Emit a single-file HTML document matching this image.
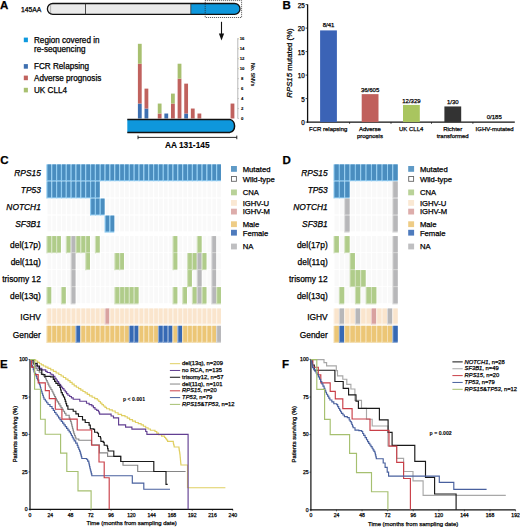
<!DOCTYPE html>
<html><head><meta charset="utf-8"><style>
html,body{margin:0;padding:0;background:#fff;}
svg{display:block;font-family:"Liberation Sans",sans-serif;}
text{stroke:#000;stroke-width:0.25px;}
</style></head><body>
<svg width="520" height="527" viewBox="0 0 520 527">
<rect width="520" height="527" fill="#fff"/>
<text x="0" y="8.6" font-size="11.5" font-weight="bold">A</text>
<text x="21" y="12.2" font-size="6.8">145AA</text>
<path d="M52.8,3.5 H190.8 V14.3 H52.8 A5.4,5.4 0 0 1 52.8,3.5 Z" fill="#eaeaea"/>
<path d="M190.8,3.5 H234.6 A5.4,5.4 0 0 1 234.6,14.3 H190.8 Z" fill="#0e97dc"/>
<path d="M52.8,3.5 H234.6 A5.4,5.4 0 0 1 234.6,14.3 H52.8 A5.4,5.4 0 0 1 52.8,3.5 Z" fill="none" stroke="#111" stroke-width="1.3"/>
<line x1="85.5" y1="3.5" x2="85.5" y2="14.3" stroke="#222" stroke-width="0.8"/>
<line x1="190.8" y1="3.5" x2="190.8" y2="14.3" stroke="#333" stroke-width="0.8"/>
<line x1="50.6" y1="4.5" x2="50.6" y2="13.3" stroke="#555" stroke-width="0.7" stroke-dasharray="1,1"/>
<rect x="205.2" y="0.6" width="36.4" height="16.9" fill="none" stroke="#222" stroke-width="0.8" stroke-dasharray="1,1"/>
<line x1="221.5" y1="21.8" x2="221.5" y2="35" stroke="#111" stroke-width="1.1"/>
<path d="M218.9,33.6 L224.1,33.6 L221.5,40.6 Z" fill="#111"/>
<rect x="23.8" y="37.6" width="4.1" height="4.6" fill="#0e99de"/>
<text x="34" y="42.5" font-size="8.15">Region covered in</text>
<text x="34" y="52.1" font-size="8.15">re-sequencing</text>
<rect x="23.8" y="64.1" width="4.1" height="4.6" fill="#3d6fb0"/>
<text x="34" y="69" font-size="8.15">FCR Relapsing</text>
<rect x="23.8" y="75.6" width="4.1" height="4.6" fill="#c0625e"/>
<text x="34" y="80.5" font-size="8.15">Adverse prognosis</text>
<rect x="23.8" y="87.8" width="4.1" height="4.6" fill="#a8c070"/>
<text x="34" y="92.7" font-size="8.15">UK CLL4</text>
<rect x="137.9" y="103.56" width="3.8" height="14.94" fill="#3d6fb0"/>
<rect x="137.9" y="63.72" width="3.8" height="39.84" fill="#c0625e"/>
<rect x="137.9" y="43.8" width="3.8" height="19.92" fill="#a8c070"/>
<rect x="144.52" y="108.54" width="3.8" height="9.96" fill="#3d6fb0"/>
<rect x="144.52" y="88.62" width="3.8" height="19.92" fill="#c0625e"/>
<rect x="157.76" y="113.52" width="3.8" height="4.98" fill="#c0625e"/>
<rect x="157.76" y="103.56" width="3.8" height="9.96" fill="#a8c070"/>
<rect x="164.38" y="113.52" width="3.8" height="4.98" fill="#3d6fb0"/>
<rect x="171" y="103.56" width="3.8" height="14.94" fill="#c0625e"/>
<rect x="171" y="93.6" width="3.8" height="9.96" fill="#a8c070"/>
<rect x="177.62" y="78.66" width="3.8" height="39.84" fill="#c0625e"/>
<rect x="177.62" y="63.72" width="3.8" height="14.94" fill="#a8c070"/>
<rect x="184.24" y="113.52" width="3.8" height="4.98" fill="#3d6fb0"/>
<rect x="184.24" y="83.64" width="3.8" height="29.88" fill="#c0625e"/>
<rect x="190.86" y="108.54" width="3.8" height="9.96" fill="#c0625e"/>
<rect x="197.48" y="113.52" width="3.8" height="4.98" fill="#c0625e"/>
<rect x="230.58" y="103.56" width="3.8" height="14.94" fill="#c0625e"/>
<line x1="237.8" y1="38.2" x2="237.8" y2="118.5" stroke="#888" stroke-width="0.6"/>
<line x1="237.8" y1="118.5" x2="238.8" y2="118.5" stroke="#888" stroke-width="0.5"/>
<text x="242.1" y="120.05" font-size="4.3" text-anchor="middle" font-weight="bold" style="stroke-width:0.1px">0</text>
<line x1="237.8" y1="108.54" x2="238.8" y2="108.54" stroke="#888" stroke-width="0.5"/>
<text x="242.1" y="110.09" font-size="4.3" text-anchor="middle" font-weight="bold" style="stroke-width:0.1px">2</text>
<line x1="237.8" y1="98.58" x2="238.8" y2="98.58" stroke="#888" stroke-width="0.5"/>
<text x="242.1" y="100.13" font-size="4.3" text-anchor="middle" font-weight="bold" style="stroke-width:0.1px">4</text>
<line x1="237.8" y1="88.62" x2="238.8" y2="88.62" stroke="#888" stroke-width="0.5"/>
<text x="242.1" y="90.17" font-size="4.3" text-anchor="middle" font-weight="bold" style="stroke-width:0.1px">6</text>
<line x1="237.8" y1="78.66" x2="238.8" y2="78.66" stroke="#888" stroke-width="0.5"/>
<text x="242.1" y="80.21" font-size="4.3" text-anchor="middle" font-weight="bold" style="stroke-width:0.1px">8</text>
<line x1="237.8" y1="68.7" x2="238.8" y2="68.7" stroke="#888" stroke-width="0.5"/>
<text x="242.1" y="70.25" font-size="4.3" text-anchor="middle" font-weight="bold" style="stroke-width:0.1px">10</text>
<line x1="237.8" y1="58.74" x2="238.8" y2="58.74" stroke="#888" stroke-width="0.5"/>
<text x="242.1" y="60.29" font-size="4.3" text-anchor="middle" font-weight="bold" style="stroke-width:0.1px">12</text>
<line x1="237.8" y1="48.78" x2="238.8" y2="48.78" stroke="#888" stroke-width="0.5"/>
<text x="242.1" y="50.33" font-size="4.3" text-anchor="middle" font-weight="bold" style="stroke-width:0.1px">14</text>
<line x1="237.8" y1="38.82" x2="238.8" y2="38.82" stroke="#888" stroke-width="0.5"/>
<text x="242.1" y="40.37" font-size="4.3" text-anchor="middle" font-weight="bold" style="stroke-width:0.1px">16</text>
<text transform="translate(250.9,74.6) rotate(90)" font-size="5.2" font-weight="bold" style="stroke-width:0.05px" text-anchor="middle">No. SNVs</text>
<path d="M127.3,119.4 H229.8 A6.8,6.8 0 0 1 229.8,132.4 H127.3 Z" fill="#0e97dc"/>
<path d="M127.3,119.4 H229.8 A6.8,6.8 0 0 1 229.8,132.4 H127.3" fill="none" stroke="#111" stroke-width="1.5"/>
<line x1="138" y1="137.4" x2="236.8" y2="137.4" stroke="#111" stroke-width="0.9"/>
<line x1="138" y1="135.6" x2="138" y2="139.2" stroke="#111" stroke-width="0.9"/>
<line x1="236.8" y1="135.6" x2="236.8" y2="139.2" stroke="#111" stroke-width="0.9"/>
<text x="164.9" y="148.3" font-size="8.35" font-weight="bold" style="stroke-width:0.1px">AA 131-145</text>
<text x="282.5" y="8.7" font-size="11.5" font-weight="bold">B</text>
<line x1="307.6" y1="4.4" x2="307.6" y2="122.7" stroke="#111" stroke-width="1.3"/>
<line x1="307" y1="122.1" x2="514.8" y2="122.1" stroke="#111" stroke-width="1.3"/>
<line x1="305.6" y1="122.1" x2="307.6" y2="122.1" stroke="#111" stroke-width="0.8"/>
<text x="304.8" y="125" font-size="6.3" text-anchor="end">0</text>
<line x1="305.6" y1="98.6" x2="307.6" y2="98.6" stroke="#111" stroke-width="0.8"/>
<text x="304.8" y="101.5" font-size="6.3" text-anchor="end">5</text>
<line x1="305.6" y1="75.1" x2="307.6" y2="75.1" stroke="#111" stroke-width="0.8"/>
<text x="304.8" y="78" font-size="6.3" text-anchor="end">10</text>
<line x1="305.6" y1="51.6" x2="307.6" y2="51.6" stroke="#111" stroke-width="0.8"/>
<text x="304.8" y="54.5" font-size="6.3" text-anchor="end">15</text>
<line x1="305.6" y1="28.1" x2="307.6" y2="28.1" stroke="#111" stroke-width="0.8"/>
<text x="304.8" y="31" font-size="6.3" text-anchor="end">20</text>
<line x1="305.6" y1="4.6" x2="307.6" y2="4.6" stroke="#111" stroke-width="0.8"/>
<text x="304.8" y="7.5" font-size="6.3" text-anchor="end">25</text>
<line x1="349.6" y1="122.1" x2="349.6" y2="123.9" stroke="#111" stroke-width="0.7"/>
<line x1="391" y1="122.1" x2="391" y2="123.9" stroke="#111" stroke-width="0.7"/>
<line x1="431.5" y1="122.1" x2="431.5" y2="123.9" stroke="#111" stroke-width="0.7"/>
<line x1="472.9" y1="122.1" x2="472.9" y2="123.9" stroke="#111" stroke-width="0.7"/>
<rect x="320.1" y="30.4" width="16.8" height="91.7" fill="#3b63b6"/>
<text x="328.5" y="27.1" font-size="6" text-anchor="middle">8/41</text>
<rect x="361.7" y="94.13" width="16.8" height="27.97" fill="#c0605c"/>
<text x="370.1" y="92.03" font-size="6" text-anchor="middle">36/605</text>
<rect x="403" y="104.94" width="16.8" height="17.16" fill="#a9c55f"/>
<text x="411.4" y="103.14" font-size="6" text-anchor="middle">12/329</text>
<rect x="444.4" y="106.45" width="16.8" height="15.65" fill="#333"/>
<text x="452.8" y="104.35" font-size="6" text-anchor="middle">1/30</text>
<text x="494.3" y="118.9" font-size="6" text-anchor="middle">0/185</text>
<text x="328.2" y="130.9" font-size="6" text-anchor="middle">FCR relapsing</text>
<text x="369.9" y="130.9" font-size="6" text-anchor="middle">Adverse</text>
<text x="369.9" y="138.2" font-size="6" text-anchor="middle">prognosis</text>
<text x="411.2" y="130.9" font-size="6" text-anchor="middle">UK CLL4</text>
<text x="452.7" y="130.9" font-size="6" text-anchor="middle">Richter</text>
<text x="452.7" y="138.2" font-size="6" text-anchor="middle">transformed</text>
<text x="494.6" y="130.9" font-size="6" text-anchor="middle">IGHV-mutated</text>
<text transform="translate(292.1,63) rotate(-90)" font-size="7.8" text-anchor="middle"><tspan font-style="italic">RPS15</tspan> mutated (%)</text>
<text x="0.2" y="163.5" font-size="11.5" font-weight="bold">C</text>
<rect x="46.35" y="164.4" width="4.85" height="17" fill="#8ecaf0"/>
<rect x="47.5" y="164.4" width="3.7" height="15.8" fill="#4a8dbf"/>
<rect x="51.2" y="164.4" width="4.85" height="17" fill="#8ecaf0"/>
<rect x="52.35" y="164.4" width="3.7" height="15.8" fill="#4a8dbf"/>
<rect x="56.05" y="164.4" width="4.85" height="17" fill="#8ecaf0"/>
<rect x="57.2" y="164.4" width="3.7" height="15.8" fill="#4a8dbf"/>
<rect x="60.9" y="164.4" width="4.85" height="17" fill="#8ecaf0"/>
<rect x="62.05" y="164.4" width="3.7" height="15.8" fill="#4a8dbf"/>
<rect x="65.75" y="164.4" width="4.85" height="17" fill="#8ecaf0"/>
<rect x="66.9" y="164.4" width="3.7" height="15.8" fill="#4a8dbf"/>
<rect x="70.6" y="164.4" width="4.85" height="17" fill="#8ecaf0"/>
<rect x="71.75" y="164.4" width="3.7" height="15.8" fill="#4a8dbf"/>
<rect x="75.45" y="164.4" width="4.85" height="17" fill="#8ecaf0"/>
<rect x="76.6" y="164.4" width="3.7" height="15.8" fill="#4a8dbf"/>
<rect x="80.3" y="164.4" width="4.85" height="17" fill="#8ecaf0"/>
<rect x="81.45" y="164.4" width="3.7" height="15.8" fill="#4a8dbf"/>
<rect x="85.15" y="164.4" width="4.85" height="17" fill="#8ecaf0"/>
<rect x="86.3" y="164.4" width="3.7" height="15.8" fill="#4a8dbf"/>
<rect x="90" y="164.4" width="4.85" height="17" fill="#8ecaf0"/>
<rect x="91.15" y="164.4" width="3.7" height="15.8" fill="#4a8dbf"/>
<rect x="94.85" y="164.4" width="4.85" height="17" fill="#8ecaf0"/>
<rect x="96" y="164.4" width="3.7" height="15.8" fill="#4a8dbf"/>
<rect x="99.7" y="164.4" width="4.85" height="17" fill="#8ecaf0"/>
<rect x="100.85" y="164.4" width="3.7" height="15.8" fill="#4a8dbf"/>
<rect x="104.55" y="164.4" width="4.85" height="17" fill="#8ecaf0"/>
<rect x="105.7" y="164.4" width="3.7" height="15.8" fill="#4a8dbf"/>
<rect x="109.4" y="164.4" width="4.85" height="17" fill="#8ecaf0"/>
<rect x="110.55" y="164.4" width="3.7" height="15.8" fill="#4a8dbf"/>
<rect x="114.25" y="164.4" width="4.85" height="17" fill="#8ecaf0"/>
<rect x="115.4" y="164.4" width="3.7" height="15.8" fill="#4a8dbf"/>
<rect x="119.1" y="164.4" width="4.85" height="17" fill="#8ecaf0"/>
<rect x="120.25" y="164.4" width="3.7" height="15.8" fill="#4a8dbf"/>
<rect x="123.95" y="164.4" width="4.85" height="17" fill="#8ecaf0"/>
<rect x="125.1" y="164.4" width="3.7" height="15.8" fill="#4a8dbf"/>
<rect x="128.8" y="164.4" width="4.85" height="17" fill="#8ecaf0"/>
<rect x="129.95" y="164.4" width="3.7" height="15.8" fill="#4a8dbf"/>
<rect x="133.65" y="164.4" width="4.85" height="17" fill="#8ecaf0"/>
<rect x="134.8" y="164.4" width="3.7" height="15.8" fill="#4a8dbf"/>
<rect x="138.5" y="164.4" width="4.85" height="17" fill="#8ecaf0"/>
<rect x="139.65" y="164.4" width="3.7" height="15.8" fill="#4a8dbf"/>
<rect x="143.35" y="164.4" width="4.85" height="17" fill="#8ecaf0"/>
<rect x="144.5" y="164.4" width="3.7" height="15.8" fill="#4a8dbf"/>
<rect x="148.2" y="164.4" width="4.85" height="17" fill="#8ecaf0"/>
<rect x="149.35" y="164.4" width="3.7" height="15.8" fill="#4a8dbf"/>
<rect x="153.05" y="164.4" width="4.85" height="17" fill="#8ecaf0"/>
<rect x="154.2" y="164.4" width="3.7" height="15.8" fill="#4a8dbf"/>
<rect x="157.9" y="164.4" width="4.85" height="17" fill="#8ecaf0"/>
<rect x="159.05" y="164.4" width="3.7" height="15.8" fill="#4a8dbf"/>
<rect x="162.75" y="164.4" width="4.85" height="17" fill="#8ecaf0"/>
<rect x="163.9" y="164.4" width="3.7" height="15.8" fill="#4a8dbf"/>
<rect x="167.6" y="164.4" width="4.85" height="17" fill="#8ecaf0"/>
<rect x="168.75" y="164.4" width="3.7" height="15.8" fill="#4a8dbf"/>
<rect x="172.45" y="164.4" width="4.85" height="17" fill="#8ecaf0"/>
<rect x="173.6" y="164.4" width="3.7" height="15.8" fill="#4a8dbf"/>
<rect x="177.3" y="164.4" width="4.85" height="17" fill="#8ecaf0"/>
<rect x="178.45" y="164.4" width="3.7" height="15.8" fill="#4a8dbf"/>
<rect x="182.15" y="164.4" width="4.85" height="17" fill="#8ecaf0"/>
<rect x="183.3" y="164.4" width="3.7" height="15.8" fill="#4a8dbf"/>
<rect x="187" y="164.4" width="4.85" height="17" fill="#8ecaf0"/>
<rect x="188.15" y="164.4" width="3.7" height="15.8" fill="#4a8dbf"/>
<rect x="191.85" y="164.4" width="4.85" height="17" fill="#8ecaf0"/>
<rect x="193" y="164.4" width="3.7" height="15.8" fill="#4a8dbf"/>
<rect x="196.7" y="164.4" width="4.85" height="17" fill="#8ecaf0"/>
<rect x="197.85" y="164.4" width="3.7" height="15.8" fill="#4a8dbf"/>
<rect x="201.55" y="164.4" width="4.85" height="17" fill="#8ecaf0"/>
<rect x="202.7" y="164.4" width="3.7" height="15.8" fill="#4a8dbf"/>
<rect x="206.4" y="164.4" width="4.85" height="17" fill="#8ecaf0"/>
<rect x="207.55" y="164.4" width="3.7" height="15.8" fill="#4a8dbf"/>
<rect x="211.25" y="164.4" width="4.85" height="17" fill="#8ecaf0"/>
<rect x="212.4" y="164.4" width="3.7" height="15.8" fill="#4a8dbf"/>
<rect x="216.1" y="164.4" width="4.85" height="17" fill="#8ecaf0"/>
<rect x="217.25" y="164.4" width="3.7" height="15.8" fill="#4a8dbf"/>
<rect x="46.35" y="181.5" width="4.85" height="17" fill="#8ecaf0"/>
<rect x="47.5" y="181.5" width="3.7" height="15.8" fill="#4a8dbf"/>
<rect x="51.2" y="181.5" width="4.85" height="17" fill="#8ecaf0"/>
<rect x="52.35" y="181.5" width="3.7" height="15.8" fill="#4a8dbf"/>
<rect x="56.05" y="181.5" width="4.85" height="17" fill="#8ecaf0"/>
<rect x="57.2" y="181.5" width="3.7" height="15.8" fill="#4a8dbf"/>
<rect x="60.9" y="181.5" width="4.85" height="17" fill="#8ecaf0"/>
<rect x="62.05" y="181.5" width="3.7" height="15.8" fill="#4a8dbf"/>
<rect x="65.75" y="181.5" width="4.85" height="17" fill="#8ecaf0"/>
<rect x="66.9" y="181.5" width="3.7" height="15.8" fill="#4a8dbf"/>
<rect x="70.6" y="181.5" width="4.85" height="17" fill="#8ecaf0"/>
<rect x="71.75" y="181.5" width="3.7" height="15.8" fill="#4a8dbf"/>
<rect x="75.45" y="181.5" width="4.85" height="17" fill="#8ecaf0"/>
<rect x="76.6" y="181.5" width="3.7" height="15.8" fill="#4a8dbf"/>
<rect x="80.3" y="181.5" width="4.85" height="17" fill="#8ecaf0"/>
<rect x="81.45" y="181.5" width="3.7" height="15.8" fill="#4a8dbf"/>
<rect x="85.15" y="181.5" width="4.85" height="17" fill="#8ecaf0"/>
<rect x="86.3" y="181.5" width="3.7" height="15.8" fill="#4a8dbf"/>
<rect x="90" y="181.5" width="4.85" height="17" fill="#8ecaf0"/>
<rect x="91.15" y="181.5" width="3.7" height="15.8" fill="#4a8dbf"/>
<rect x="94.85" y="181.5" width="4.85" height="17" fill="#8ecaf0"/>
<rect x="96" y="181.5" width="3.7" height="15.8" fill="#4a8dbf"/>
<rect x="100.85" y="181.5" width="3.7" height="15.8" fill="#f9f9f9"/>
<rect x="105.7" y="181.5" width="3.7" height="15.8" fill="#f9f9f9"/>
<rect x="110.55" y="181.5" width="3.7" height="15.8" fill="#f9f9f9"/>
<rect x="115.4" y="181.5" width="3.7" height="15.8" fill="#f9f9f9"/>
<rect x="120.25" y="181.5" width="3.7" height="15.8" fill="#f9f9f9"/>
<rect x="125.1" y="181.5" width="3.7" height="15.8" fill="#f9f9f9"/>
<rect x="129.95" y="181.5" width="3.7" height="15.8" fill="#f9f9f9"/>
<rect x="134.8" y="181.5" width="3.7" height="15.8" fill="#f9f9f9"/>
<rect x="139.65" y="181.5" width="3.7" height="15.8" fill="#f9f9f9"/>
<rect x="144.5" y="181.5" width="3.7" height="15.8" fill="#f9f9f9"/>
<rect x="149.35" y="181.5" width="3.7" height="15.8" fill="#f9f9f9"/>
<rect x="154.2" y="181.5" width="3.7" height="15.8" fill="#f9f9f9"/>
<rect x="159.05" y="181.5" width="3.7" height="15.8" fill="#f9f9f9"/>
<rect x="163.9" y="181.5" width="3.7" height="15.8" fill="#f9f9f9"/>
<rect x="168.75" y="181.5" width="3.7" height="15.8" fill="#f9f9f9"/>
<rect x="173.6" y="181.5" width="3.7" height="15.8" fill="#f9f9f9"/>
<rect x="178.45" y="181.5" width="3.7" height="15.8" fill="#f9f9f9"/>
<rect x="183.3" y="181.5" width="3.7" height="15.8" fill="#f9f9f9"/>
<rect x="188.15" y="181.5" width="3.7" height="15.8" fill="#f9f9f9"/>
<rect x="193" y="181.5" width="3.7" height="15.8" fill="#f9f9f9"/>
<rect x="197.85" y="181.5" width="3.7" height="15.8" fill="#f9f9f9"/>
<rect x="202.7" y="181.5" width="3.7" height="15.8" fill="#f9f9f9"/>
<rect x="207.55" y="181.5" width="3.7" height="15.8" fill="#f9f9f9"/>
<rect x="212.4" y="181.5" width="3.7" height="15.8" fill="#f9f9f9"/>
<rect x="217.25" y="181.5" width="3.7" height="15.8" fill="#f9f9f9"/>
<rect x="47.5" y="198.6" width="3.7" height="15.8" fill="#f9f9f9"/>
<rect x="52.35" y="198.6" width="3.7" height="15.8" fill="#f9f9f9"/>
<rect x="57.2" y="198.6" width="3.7" height="15.8" fill="#f9f9f9"/>
<rect x="62.05" y="198.6" width="3.7" height="15.8" fill="#f9f9f9"/>
<rect x="66.9" y="198.6" width="3.7" height="15.8" fill="#f9f9f9"/>
<rect x="71.75" y="198.6" width="3.7" height="15.8" fill="#f9f9f9"/>
<rect x="76.6" y="198.6" width="3.7" height="15.8" fill="#f9f9f9"/>
<rect x="81.45" y="198.6" width="3.7" height="15.8" fill="#f9f9f9"/>
<rect x="86.3" y="198.6" width="3.7" height="15.8" fill="#f9f9f9"/>
<rect x="90" y="198.6" width="4.85" height="17" fill="#8ecaf0"/>
<rect x="91.15" y="198.6" width="3.7" height="15.8" fill="#4a8dbf"/>
<rect x="94.85" y="198.6" width="4.85" height="17" fill="#8ecaf0"/>
<rect x="96" y="198.6" width="3.7" height="15.8" fill="#4a8dbf"/>
<rect x="99.7" y="198.6" width="4.85" height="17" fill="#8ecaf0"/>
<rect x="100.85" y="198.6" width="3.7" height="15.8" fill="#4a8dbf"/>
<rect x="105.7" y="198.6" width="3.7" height="15.8" fill="#f9f9f9"/>
<rect x="110.55" y="198.6" width="3.7" height="15.8" fill="#f9f9f9"/>
<rect x="115.4" y="198.6" width="3.7" height="15.8" fill="#f9f9f9"/>
<rect x="120.25" y="198.6" width="3.7" height="15.8" fill="#f9f9f9"/>
<rect x="125.1" y="198.6" width="3.7" height="15.8" fill="#f9f9f9"/>
<rect x="129.95" y="198.6" width="3.7" height="15.8" fill="#f9f9f9"/>
<rect x="134.8" y="198.6" width="3.7" height="15.8" fill="#f9f9f9"/>
<rect x="139.65" y="198.6" width="3.7" height="15.8" fill="#f9f9f9"/>
<rect x="144.5" y="198.6" width="3.7" height="15.8" fill="#f9f9f9"/>
<rect x="149.35" y="198.6" width="3.7" height="15.8" fill="#f9f9f9"/>
<rect x="154.2" y="198.6" width="3.7" height="15.8" fill="#f9f9f9"/>
<rect x="159.05" y="198.6" width="3.7" height="15.8" fill="#f9f9f9"/>
<rect x="163.9" y="198.6" width="3.7" height="15.8" fill="#f9f9f9"/>
<rect x="168.75" y="198.6" width="3.7" height="15.8" fill="#f9f9f9"/>
<rect x="173.6" y="198.6" width="3.7" height="15.8" fill="#f9f9f9"/>
<rect x="178.45" y="198.6" width="3.7" height="15.8" fill="#f9f9f9"/>
<rect x="183.3" y="198.6" width="3.7" height="15.8" fill="#f9f9f9"/>
<rect x="188.15" y="198.6" width="3.7" height="15.8" fill="#f9f9f9"/>
<rect x="193" y="198.6" width="3.7" height="15.8" fill="#f9f9f9"/>
<rect x="197.85" y="198.6" width="3.7" height="15.8" fill="#f9f9f9"/>
<rect x="202.7" y="198.6" width="3.7" height="15.8" fill="#f9f9f9"/>
<rect x="207.55" y="198.6" width="3.7" height="15.8" fill="#f9f9f9"/>
<rect x="212.4" y="198.6" width="3.7" height="15.8" fill="#f9f9f9"/>
<rect x="217.25" y="198.6" width="3.7" height="15.8" fill="#f9f9f9"/>
<rect x="47.5" y="215.6" width="3.7" height="15.8" fill="#f9f9f9"/>
<rect x="52.35" y="215.6" width="3.7" height="15.8" fill="#f9f9f9"/>
<rect x="57.2" y="215.6" width="3.7" height="15.8" fill="#f9f9f9"/>
<rect x="62.05" y="215.6" width="3.7" height="15.8" fill="#f9f9f9"/>
<rect x="66.9" y="215.6" width="3.7" height="15.8" fill="#f9f9f9"/>
<rect x="71.75" y="215.6" width="3.7" height="15.8" fill="#f9f9f9"/>
<rect x="76.6" y="215.6" width="3.7" height="15.8" fill="#f9f9f9"/>
<rect x="81.45" y="215.6" width="3.7" height="15.8" fill="#f9f9f9"/>
<rect x="86.3" y="215.6" width="3.7" height="15.8" fill="#f9f9f9"/>
<rect x="91.15" y="215.6" width="3.7" height="15.8" fill="#f9f9f9"/>
<rect x="96" y="215.6" width="3.7" height="15.8" fill="#f9f9f9"/>
<rect x="100.85" y="215.6" width="3.7" height="15.8" fill="#f9f9f9"/>
<rect x="104.55" y="215.6" width="4.85" height="17" fill="#8ecaf0"/>
<rect x="105.7" y="215.6" width="3.7" height="15.8" fill="#4a8dbf"/>
<rect x="109.4" y="215.6" width="4.85" height="17" fill="#8ecaf0"/>
<rect x="110.55" y="215.6" width="3.7" height="15.8" fill="#4a8dbf"/>
<rect x="115.4" y="215.6" width="3.7" height="15.8" fill="#f9f9f9"/>
<rect x="120.25" y="215.6" width="3.7" height="15.8" fill="#f9f9f9"/>
<rect x="125.1" y="215.6" width="3.7" height="15.8" fill="#f9f9f9"/>
<rect x="129.95" y="215.6" width="3.7" height="15.8" fill="#f9f9f9"/>
<rect x="134.8" y="215.6" width="3.7" height="15.8" fill="#f9f9f9"/>
<rect x="139.65" y="215.6" width="3.7" height="15.8" fill="#f9f9f9"/>
<rect x="144.5" y="215.6" width="3.7" height="15.8" fill="#f9f9f9"/>
<rect x="149.35" y="215.6" width="3.7" height="15.8" fill="#f9f9f9"/>
<rect x="154.2" y="215.6" width="3.7" height="15.8" fill="#f9f9f9"/>
<rect x="159.05" y="215.6" width="3.7" height="15.8" fill="#f9f9f9"/>
<rect x="163.9" y="215.6" width="3.7" height="15.8" fill="#f9f9f9"/>
<rect x="168.75" y="215.6" width="3.7" height="15.8" fill="#f9f9f9"/>
<rect x="173.6" y="215.6" width="3.7" height="15.8" fill="#f9f9f9"/>
<rect x="178.45" y="215.6" width="3.7" height="15.8" fill="#f9f9f9"/>
<rect x="183.3" y="215.6" width="3.7" height="15.8" fill="#f9f9f9"/>
<rect x="188.15" y="215.6" width="3.7" height="15.8" fill="#f9f9f9"/>
<rect x="193" y="215.6" width="3.7" height="15.8" fill="#f9f9f9"/>
<rect x="197.85" y="215.6" width="3.7" height="15.8" fill="#f9f9f9"/>
<rect x="202.7" y="215.6" width="3.7" height="15.8" fill="#f9f9f9"/>
<rect x="207.55" y="215.6" width="3.7" height="15.8" fill="#f9f9f9"/>
<rect x="212.4" y="215.6" width="3.7" height="15.8" fill="#f9f9f9"/>
<rect x="217.25" y="215.6" width="3.7" height="15.8" fill="#f9f9f9"/>
<rect x="46.35" y="236.1" width="4.85" height="17.3" fill="#d3e2be"/>
<rect x="47.5" y="236.1" width="3.7" height="16.1" fill="#b0cc8a"/>
<rect x="51.2" y="236.1" width="4.85" height="17.3" fill="#d3e2be"/>
<rect x="52.35" y="236.1" width="3.7" height="16.1" fill="#b0cc8a"/>
<rect x="56.05" y="236.1" width="4.85" height="17.3" fill="#d3e2be"/>
<rect x="57.2" y="236.1" width="3.7" height="16.1" fill="#b0cc8a"/>
<rect x="62.05" y="236.1" width="3.7" height="16.1" fill="#f9f9f9"/>
<rect x="65.75" y="236.1" width="4.85" height="17.3" fill="#d3e2be"/>
<rect x="66.9" y="236.1" width="3.7" height="16.1" fill="#b0cc8a"/>
<rect x="70.6" y="236.1" width="4.85" height="17.3" fill="#d7d7d8"/>
<rect x="71.75" y="236.1" width="3.7" height="16.1" fill="#b7b7b9"/>
<rect x="75.45" y="236.1" width="4.85" height="17.3" fill="#d3e2be"/>
<rect x="76.6" y="236.1" width="3.7" height="16.1" fill="#b0cc8a"/>
<rect x="80.3" y="236.1" width="4.85" height="17.3" fill="#d3e2be"/>
<rect x="81.45" y="236.1" width="3.7" height="16.1" fill="#b0cc8a"/>
<rect x="85.15" y="236.1" width="4.85" height="17.3" fill="#d3e2be"/>
<rect x="86.3" y="236.1" width="3.7" height="16.1" fill="#b0cc8a"/>
<rect x="91.15" y="236.1" width="3.7" height="16.1" fill="#f9f9f9"/>
<rect x="94.85" y="236.1" width="4.85" height="17.3" fill="#d3e2be"/>
<rect x="96" y="236.1" width="3.7" height="16.1" fill="#b0cc8a"/>
<rect x="100.85" y="236.1" width="3.7" height="16.1" fill="#f9f9f9"/>
<rect x="105.7" y="236.1" width="3.7" height="16.1" fill="#f9f9f9"/>
<rect x="110.55" y="236.1" width="3.7" height="16.1" fill="#f9f9f9"/>
<rect x="115.4" y="236.1" width="3.7" height="16.1" fill="#f9f9f9"/>
<rect x="120.25" y="236.1" width="3.7" height="16.1" fill="#f9f9f9"/>
<rect x="125.1" y="236.1" width="3.7" height="16.1" fill="#f9f9f9"/>
<rect x="129.95" y="236.1" width="3.7" height="16.1" fill="#f9f9f9"/>
<rect x="134.8" y="236.1" width="3.7" height="16.1" fill="#f9f9f9"/>
<rect x="139.65" y="236.1" width="3.7" height="16.1" fill="#f9f9f9"/>
<rect x="144.5" y="236.1" width="3.7" height="16.1" fill="#f9f9f9"/>
<rect x="149.35" y="236.1" width="3.7" height="16.1" fill="#f9f9f9"/>
<rect x="154.2" y="236.1" width="3.7" height="16.1" fill="#f9f9f9"/>
<rect x="159.05" y="236.1" width="3.7" height="16.1" fill="#f9f9f9"/>
<rect x="163.9" y="236.1" width="3.7" height="16.1" fill="#f9f9f9"/>
<rect x="168.75" y="236.1" width="3.7" height="16.1" fill="#f9f9f9"/>
<rect x="172.45" y="236.1" width="4.85" height="17.3" fill="#d3e2be"/>
<rect x="173.6" y="236.1" width="3.7" height="16.1" fill="#b0cc8a"/>
<rect x="178.45" y="236.1" width="3.7" height="16.1" fill="#f9f9f9"/>
<rect x="183.3" y="236.1" width="3.7" height="16.1" fill="#f9f9f9"/>
<rect x="188.15" y="236.1" width="3.7" height="16.1" fill="#f9f9f9"/>
<rect x="193" y="236.1" width="3.7" height="16.1" fill="#f9f9f9"/>
<rect x="196.7" y="236.1" width="4.85" height="17.3" fill="#d3e2be"/>
<rect x="197.85" y="236.1" width="3.7" height="16.1" fill="#b0cc8a"/>
<rect x="202.7" y="236.1" width="3.7" height="16.1" fill="#f9f9f9"/>
<rect x="207.55" y="236.1" width="3.7" height="16.1" fill="#f9f9f9"/>
<rect x="211.25" y="236.1" width="4.85" height="17.3" fill="#d7d7d8"/>
<rect x="212.4" y="236.1" width="3.7" height="16.1" fill="#b7b7b9"/>
<rect x="217.25" y="236.1" width="3.7" height="16.1" fill="#f9f9f9"/>
<rect x="47.5" y="253.1" width="3.7" height="16.1" fill="#f9f9f9"/>
<rect x="52.35" y="253.1" width="3.7" height="16.1" fill="#f9f9f9"/>
<rect x="57.2" y="253.1" width="3.7" height="16.1" fill="#f9f9f9"/>
<rect x="62.05" y="253.1" width="3.7" height="16.1" fill="#f9f9f9"/>
<rect x="66.9" y="253.1" width="3.7" height="16.1" fill="#f9f9f9"/>
<rect x="70.6" y="253.1" width="4.85" height="17.3" fill="#d7d7d8"/>
<rect x="71.75" y="253.1" width="3.7" height="16.1" fill="#b7b7b9"/>
<rect x="76.6" y="253.1" width="3.7" height="16.1" fill="#f9f9f9"/>
<rect x="81.45" y="253.1" width="3.7" height="16.1" fill="#f9f9f9"/>
<rect x="85.15" y="253.1" width="4.85" height="17.3" fill="#d3e2be"/>
<rect x="86.3" y="253.1" width="3.7" height="16.1" fill="#b0cc8a"/>
<rect x="91.15" y="253.1" width="3.7" height="16.1" fill="#f9f9f9"/>
<rect x="96" y="253.1" width="3.7" height="16.1" fill="#f9f9f9"/>
<rect x="100.85" y="253.1" width="3.7" height="16.1" fill="#f9f9f9"/>
<rect x="105.7" y="253.1" width="3.7" height="16.1" fill="#f9f9f9"/>
<rect x="110.55" y="253.1" width="3.7" height="16.1" fill="#f9f9f9"/>
<rect x="114.25" y="253.1" width="4.85" height="17.3" fill="#d3e2be"/>
<rect x="115.4" y="253.1" width="3.7" height="16.1" fill="#b0cc8a"/>
<rect x="119.1" y="253.1" width="4.85" height="17.3" fill="#d3e2be"/>
<rect x="120.25" y="253.1" width="3.7" height="16.1" fill="#b0cc8a"/>
<rect x="125.1" y="253.1" width="3.7" height="16.1" fill="#f9f9f9"/>
<rect x="129.95" y="253.1" width="3.7" height="16.1" fill="#f9f9f9"/>
<rect x="134.8" y="253.1" width="3.7" height="16.1" fill="#f9f9f9"/>
<rect x="139.65" y="253.1" width="3.7" height="16.1" fill="#f9f9f9"/>
<rect x="144.5" y="253.1" width="3.7" height="16.1" fill="#f9f9f9"/>
<rect x="149.35" y="253.1" width="3.7" height="16.1" fill="#f9f9f9"/>
<rect x="154.2" y="253.1" width="3.7" height="16.1" fill="#f9f9f9"/>
<rect x="159.05" y="253.1" width="3.7" height="16.1" fill="#f9f9f9"/>
<rect x="163.9" y="253.1" width="3.7" height="16.1" fill="#f9f9f9"/>
<rect x="168.75" y="253.1" width="3.7" height="16.1" fill="#f9f9f9"/>
<rect x="172.45" y="253.1" width="4.85" height="17.3" fill="#d3e2be"/>
<rect x="173.6" y="253.1" width="3.7" height="16.1" fill="#b0cc8a"/>
<rect x="178.45" y="253.1" width="3.7" height="16.1" fill="#f9f9f9"/>
<rect x="183.3" y="253.1" width="3.7" height="16.1" fill="#f9f9f9"/>
<rect x="187" y="253.1" width="4.85" height="17.3" fill="#d3e2be"/>
<rect x="188.15" y="253.1" width="3.7" height="16.1" fill="#b0cc8a"/>
<rect x="191.85" y="253.1" width="4.85" height="17.3" fill="#d3e2be"/>
<rect x="193" y="253.1" width="3.7" height="16.1" fill="#b0cc8a"/>
<rect x="196.7" y="253.1" width="4.85" height="17.3" fill="#d7d7d8"/>
<rect x="197.85" y="253.1" width="3.7" height="16.1" fill="#b7b7b9"/>
<rect x="201.55" y="253.1" width="4.85" height="17.3" fill="#d3e2be"/>
<rect x="202.7" y="253.1" width="3.7" height="16.1" fill="#b0cc8a"/>
<rect x="207.55" y="253.1" width="3.7" height="16.1" fill="#f9f9f9"/>
<rect x="211.25" y="253.1" width="4.85" height="17.3" fill="#d7d7d8"/>
<rect x="212.4" y="253.1" width="3.7" height="16.1" fill="#b7b7b9"/>
<rect x="217.25" y="253.1" width="3.7" height="16.1" fill="#f9f9f9"/>
<rect x="47.5" y="270.1" width="3.7" height="16.1" fill="#f9f9f9"/>
<rect x="52.35" y="270.1" width="3.7" height="16.1" fill="#f9f9f9"/>
<rect x="57.2" y="270.1" width="3.7" height="16.1" fill="#f9f9f9"/>
<rect x="62.05" y="270.1" width="3.7" height="16.1" fill="#f9f9f9"/>
<rect x="66.9" y="270.1" width="3.7" height="16.1" fill="#f9f9f9"/>
<rect x="70.6" y="270.1" width="4.85" height="17.3" fill="#d7d7d8"/>
<rect x="71.75" y="270.1" width="3.7" height="16.1" fill="#b7b7b9"/>
<rect x="76.6" y="270.1" width="3.7" height="16.1" fill="#f9f9f9"/>
<rect x="81.45" y="270.1" width="3.7" height="16.1" fill="#f9f9f9"/>
<rect x="86.3" y="270.1" width="3.7" height="16.1" fill="#f9f9f9"/>
<rect x="91.15" y="270.1" width="3.7" height="16.1" fill="#f9f9f9"/>
<rect x="96" y="270.1" width="3.7" height="16.1" fill="#f9f9f9"/>
<rect x="100.85" y="270.1" width="3.7" height="16.1" fill="#f9f9f9"/>
<rect x="105.7" y="270.1" width="3.7" height="16.1" fill="#f9f9f9"/>
<rect x="110.55" y="270.1" width="3.7" height="16.1" fill="#f9f9f9"/>
<rect x="115.4" y="270.1" width="3.7" height="16.1" fill="#f9f9f9"/>
<rect x="120.25" y="270.1" width="3.7" height="16.1" fill="#f9f9f9"/>
<rect x="125.1" y="270.1" width="3.7" height="16.1" fill="#f9f9f9"/>
<rect x="129.95" y="270.1" width="3.7" height="16.1" fill="#f9f9f9"/>
<rect x="134.8" y="270.1" width="3.7" height="16.1" fill="#f9f9f9"/>
<rect x="139.65" y="270.1" width="3.7" height="16.1" fill="#f9f9f9"/>
<rect x="144.5" y="270.1" width="3.7" height="16.1" fill="#f9f9f9"/>
<rect x="149.35" y="270.1" width="3.7" height="16.1" fill="#f9f9f9"/>
<rect x="154.2" y="270.1" width="3.7" height="16.1" fill="#f9f9f9"/>
<rect x="159.05" y="270.1" width="3.7" height="16.1" fill="#f9f9f9"/>
<rect x="163.9" y="270.1" width="3.7" height="16.1" fill="#f9f9f9"/>
<rect x="168.75" y="270.1" width="3.7" height="16.1" fill="#f9f9f9"/>
<rect x="173.6" y="270.1" width="3.7" height="16.1" fill="#f9f9f9"/>
<rect x="178.45" y="270.1" width="3.7" height="16.1" fill="#f9f9f9"/>
<rect x="183.3" y="270.1" width="3.7" height="16.1" fill="#f9f9f9"/>
<rect x="187" y="270.1" width="4.85" height="17.3" fill="#d3e2be"/>
<rect x="188.15" y="270.1" width="3.7" height="16.1" fill="#b0cc8a"/>
<rect x="193" y="270.1" width="3.7" height="16.1" fill="#f9f9f9"/>
<rect x="196.7" y="270.1" width="4.85" height="17.3" fill="#d7d7d8"/>
<rect x="197.85" y="270.1" width="3.7" height="16.1" fill="#b7b7b9"/>
<rect x="202.7" y="270.1" width="3.7" height="16.1" fill="#f9f9f9"/>
<rect x="207.55" y="270.1" width="3.7" height="16.1" fill="#f9f9f9"/>
<rect x="211.25" y="270.1" width="4.85" height="17.3" fill="#d7d7d8"/>
<rect x="212.4" y="270.1" width="3.7" height="16.1" fill="#b7b7b9"/>
<rect x="217.25" y="270.1" width="3.7" height="16.1" fill="#f9f9f9"/>
<rect x="46.35" y="287.1" width="4.85" height="17.3" fill="#d3e2be"/>
<rect x="47.5" y="287.1" width="3.7" height="16.1" fill="#b0cc8a"/>
<rect x="52.35" y="287.1" width="3.7" height="16.1" fill="#f9f9f9"/>
<rect x="57.2" y="287.1" width="3.7" height="16.1" fill="#f9f9f9"/>
<rect x="60.9" y="287.1" width="4.85" height="17.3" fill="#d3e2be"/>
<rect x="62.05" y="287.1" width="3.7" height="16.1" fill="#b0cc8a"/>
<rect x="66.9" y="287.1" width="3.7" height="16.1" fill="#f9f9f9"/>
<rect x="70.6" y="287.1" width="4.85" height="17.3" fill="#d7d7d8"/>
<rect x="71.75" y="287.1" width="3.7" height="16.1" fill="#b7b7b9"/>
<rect x="76.6" y="287.1" width="3.7" height="16.1" fill="#f9f9f9"/>
<rect x="81.45" y="287.1" width="3.7" height="16.1" fill="#f9f9f9"/>
<rect x="86.3" y="287.1" width="3.7" height="16.1" fill="#f9f9f9"/>
<rect x="91.15" y="287.1" width="3.7" height="16.1" fill="#f9f9f9"/>
<rect x="96" y="287.1" width="3.7" height="16.1" fill="#f9f9f9"/>
<rect x="100.85" y="287.1" width="3.7" height="16.1" fill="#f9f9f9"/>
<rect x="105.7" y="287.1" width="3.7" height="16.1" fill="#f9f9f9"/>
<rect x="110.55" y="287.1" width="3.7" height="16.1" fill="#f9f9f9"/>
<rect x="114.25" y="287.1" width="4.85" height="17.3" fill="#d3e2be"/>
<rect x="115.4" y="287.1" width="3.7" height="16.1" fill="#b0cc8a"/>
<rect x="119.1" y="287.1" width="4.85" height="17.3" fill="#d3e2be"/>
<rect x="120.25" y="287.1" width="3.7" height="16.1" fill="#b0cc8a"/>
<rect x="123.95" y="287.1" width="4.85" height="17.3" fill="#d3e2be"/>
<rect x="125.1" y="287.1" width="3.7" height="16.1" fill="#b0cc8a"/>
<rect x="128.8" y="287.1" width="4.85" height="17.3" fill="#d3e2be"/>
<rect x="129.95" y="287.1" width="3.7" height="16.1" fill="#b0cc8a"/>
<rect x="133.65" y="287.1" width="4.85" height="17.3" fill="#d3e2be"/>
<rect x="134.8" y="287.1" width="3.7" height="16.1" fill="#b0cc8a"/>
<rect x="139.65" y="287.1" width="3.7" height="16.1" fill="#f9f9f9"/>
<rect x="144.5" y="287.1" width="3.7" height="16.1" fill="#f9f9f9"/>
<rect x="149.35" y="287.1" width="3.7" height="16.1" fill="#f9f9f9"/>
<rect x="154.2" y="287.1" width="3.7" height="16.1" fill="#f9f9f9"/>
<rect x="159.05" y="287.1" width="3.7" height="16.1" fill="#f9f9f9"/>
<rect x="163.9" y="287.1" width="3.7" height="16.1" fill="#f9f9f9"/>
<rect x="168.75" y="287.1" width="3.7" height="16.1" fill="#f9f9f9"/>
<rect x="172.45" y="287.1" width="4.85" height="17.3" fill="#d3e2be"/>
<rect x="173.6" y="287.1" width="3.7" height="16.1" fill="#b0cc8a"/>
<rect x="178.45" y="287.1" width="3.7" height="16.1" fill="#f9f9f9"/>
<rect x="182.15" y="287.1" width="4.85" height="17.3" fill="#d3e2be"/>
<rect x="183.3" y="287.1" width="3.7" height="16.1" fill="#b0cc8a"/>
<rect x="188.15" y="287.1" width="3.7" height="16.1" fill="#f9f9f9"/>
<rect x="191.85" y="287.1" width="4.85" height="17.3" fill="#d3e2be"/>
<rect x="193" y="287.1" width="3.7" height="16.1" fill="#b0cc8a"/>
<rect x="196.7" y="287.1" width="4.85" height="17.3" fill="#d7d7d8"/>
<rect x="197.85" y="287.1" width="3.7" height="16.1" fill="#b7b7b9"/>
<rect x="201.55" y="287.1" width="4.85" height="17.3" fill="#d3e2be"/>
<rect x="202.7" y="287.1" width="3.7" height="16.1" fill="#b0cc8a"/>
<rect x="207.55" y="287.1" width="3.7" height="16.1" fill="#f9f9f9"/>
<rect x="211.25" y="287.1" width="4.85" height="17.3" fill="#d7d7d8"/>
<rect x="212.4" y="287.1" width="3.7" height="16.1" fill="#b7b7b9"/>
<rect x="216.1" y="287.1" width="4.85" height="17.3" fill="#d3e2be"/>
<rect x="217.25" y="287.1" width="3.7" height="16.1" fill="#b0cc8a"/>
<rect x="46.35" y="308.5" width="4.85" height="16.2" fill="#fcf2e6"/>
<rect x="47.5" y="308.5" width="3.7" height="15" fill="#fae5cd"/>
<rect x="46.35" y="325.8" width="4.85" height="17.2" fill="#f4dfb3"/>
<rect x="47.5" y="325.8" width="3.7" height="16" fill="#ecc676"/>
<rect x="51.2" y="308.5" width="4.85" height="16.2" fill="#fcf2e6"/>
<rect x="52.35" y="308.5" width="3.7" height="15" fill="#fae5cd"/>
<rect x="51.2" y="325.8" width="4.85" height="17.2" fill="#f4dfb3"/>
<rect x="52.35" y="325.8" width="3.7" height="16" fill="#ecc676"/>
<rect x="56.05" y="308.5" width="4.85" height="16.2" fill="#fcf2e6"/>
<rect x="57.2" y="308.5" width="3.7" height="15" fill="#fae5cd"/>
<rect x="56.05" y="325.8" width="4.85" height="17.2" fill="#f4dfb3"/>
<rect x="57.2" y="325.8" width="3.7" height="16" fill="#ecc676"/>
<rect x="60.9" y="308.5" width="4.85" height="16.2" fill="#fcf2e6"/>
<rect x="62.05" y="308.5" width="3.7" height="15" fill="#fae5cd"/>
<rect x="60.9" y="325.8" width="4.85" height="17.2" fill="#f4dfb3"/>
<rect x="62.05" y="325.8" width="3.7" height="16" fill="#ecc676"/>
<rect x="65.75" y="308.5" width="4.85" height="16.2" fill="#fcf2e6"/>
<rect x="66.9" y="308.5" width="3.7" height="15" fill="#fae5cd"/>
<rect x="65.75" y="325.8" width="4.85" height="17.2" fill="#f4dfb3"/>
<rect x="66.9" y="325.8" width="3.7" height="16" fill="#ecc676"/>
<rect x="70.6" y="308.5" width="4.85" height="16.2" fill="#fcf2e6"/>
<rect x="71.75" y="308.5" width="3.7" height="15" fill="#fae5cd"/>
<rect x="70.6" y="325.8" width="4.85" height="17.2" fill="#f4dfb3"/>
<rect x="71.75" y="325.8" width="3.7" height="16" fill="#ecc676"/>
<rect x="75.45" y="308.5" width="4.85" height="16.2" fill="#fcf2e6"/>
<rect x="76.6" y="308.5" width="3.7" height="15" fill="#fae5cd"/>
<rect x="75.45" y="325.8" width="4.85" height="17.2" fill="#90acd5"/>
<rect x="76.6" y="325.8" width="3.7" height="16" fill="#3669b4"/>
<rect x="80.3" y="308.5" width="4.85" height="16.2" fill="#fcf2e6"/>
<rect x="81.45" y="308.5" width="3.7" height="15" fill="#fae5cd"/>
<rect x="80.3" y="325.8" width="4.85" height="17.2" fill="#f4dfb3"/>
<rect x="81.45" y="325.8" width="3.7" height="16" fill="#ecc676"/>
<rect x="85.15" y="308.5" width="4.85" height="16.2" fill="#fcf2e6"/>
<rect x="86.3" y="308.5" width="3.7" height="15" fill="#fae5cd"/>
<rect x="85.15" y="325.8" width="4.85" height="17.2" fill="#f4dfb3"/>
<rect x="86.3" y="325.8" width="3.7" height="16" fill="#ecc676"/>
<rect x="90" y="308.5" width="4.85" height="16.2" fill="#fcf2e6"/>
<rect x="91.15" y="308.5" width="3.7" height="15" fill="#fae5cd"/>
<rect x="90" y="325.8" width="4.85" height="17.2" fill="#f4dfb3"/>
<rect x="91.15" y="325.8" width="3.7" height="16" fill="#ecc676"/>
<rect x="94.85" y="308.5" width="4.85" height="16.2" fill="#fcf2e6"/>
<rect x="96" y="308.5" width="3.7" height="15" fill="#fae5cd"/>
<rect x="94.85" y="325.8" width="4.85" height="17.2" fill="#f4dfb3"/>
<rect x="96" y="325.8" width="3.7" height="16" fill="#ecc676"/>
<rect x="99.7" y="308.5" width="4.85" height="16.2" fill="#fcf2e6"/>
<rect x="100.85" y="308.5" width="3.7" height="15" fill="#fae5cd"/>
<rect x="99.7" y="325.8" width="4.85" height="17.2" fill="#f4dfb3"/>
<rect x="100.85" y="325.8" width="3.7" height="16" fill="#ecc676"/>
<rect x="104.55" y="308.5" width="4.85" height="16.2" fill="#ecd0cf"/>
<rect x="105.7" y="308.5" width="3.7" height="15" fill="#d9a2a0"/>
<rect x="104.55" y="325.8" width="4.85" height="17.2" fill="#f4dfb3"/>
<rect x="105.7" y="325.8" width="3.7" height="16" fill="#ecc676"/>
<rect x="109.4" y="308.5" width="4.85" height="16.2" fill="#fcf2e6"/>
<rect x="110.55" y="308.5" width="3.7" height="15" fill="#fae5cd"/>
<rect x="109.4" y="325.8" width="4.85" height="17.2" fill="#f4dfb3"/>
<rect x="110.55" y="325.8" width="3.7" height="16" fill="#ecc676"/>
<rect x="114.25" y="308.5" width="4.85" height="16.2" fill="#fcf2e6"/>
<rect x="115.4" y="308.5" width="3.7" height="15" fill="#fae5cd"/>
<rect x="114.25" y="325.8" width="4.85" height="17.2" fill="#f4dfb3"/>
<rect x="115.4" y="325.8" width="3.7" height="16" fill="#ecc676"/>
<rect x="119.1" y="308.5" width="4.85" height="16.2" fill="#fcf2e6"/>
<rect x="120.25" y="308.5" width="3.7" height="15" fill="#fae5cd"/>
<rect x="119.1" y="325.8" width="4.85" height="17.2" fill="#f4dfb3"/>
<rect x="120.25" y="325.8" width="3.7" height="16" fill="#ecc676"/>
<rect x="123.95" y="308.5" width="4.85" height="16.2" fill="#fcf2e6"/>
<rect x="125.1" y="308.5" width="3.7" height="15" fill="#fae5cd"/>
<rect x="123.95" y="325.8" width="4.85" height="17.2" fill="#f4dfb3"/>
<rect x="125.1" y="325.8" width="3.7" height="16" fill="#ecc676"/>
<rect x="128.8" y="308.5" width="4.85" height="16.2" fill="#fcf2e6"/>
<rect x="129.95" y="308.5" width="3.7" height="15" fill="#fae5cd"/>
<rect x="128.8" y="325.8" width="4.85" height="17.2" fill="#90acd5"/>
<rect x="129.95" y="325.8" width="3.7" height="16" fill="#3669b4"/>
<rect x="133.65" y="308.5" width="4.85" height="16.2" fill="#fcf2e6"/>
<rect x="134.8" y="308.5" width="3.7" height="15" fill="#fae5cd"/>
<rect x="133.65" y="325.8" width="4.85" height="17.2" fill="#90acd5"/>
<rect x="134.8" y="325.8" width="3.7" height="16" fill="#3669b4"/>
<rect x="138.5" y="308.5" width="4.85" height="16.2" fill="#fcf2e6"/>
<rect x="139.65" y="308.5" width="3.7" height="15" fill="#fae5cd"/>
<rect x="138.5" y="325.8" width="4.85" height="17.2" fill="#f4dfb3"/>
<rect x="139.65" y="325.8" width="3.7" height="16" fill="#ecc676"/>
<rect x="143.35" y="308.5" width="4.85" height="16.2" fill="#fcf2e6"/>
<rect x="144.5" y="308.5" width="3.7" height="15" fill="#fae5cd"/>
<rect x="143.35" y="325.8" width="4.85" height="17.2" fill="#f4dfb3"/>
<rect x="144.5" y="325.8" width="3.7" height="16" fill="#ecc676"/>
<rect x="148.2" y="308.5" width="4.85" height="16.2" fill="#fcf2e6"/>
<rect x="149.35" y="308.5" width="3.7" height="15" fill="#fae5cd"/>
<rect x="148.2" y="325.8" width="4.85" height="17.2" fill="#f4dfb3"/>
<rect x="149.35" y="325.8" width="3.7" height="16" fill="#ecc676"/>
<rect x="153.05" y="308.5" width="4.85" height="16.2" fill="#fcf2e6"/>
<rect x="154.2" y="308.5" width="3.7" height="15" fill="#fae5cd"/>
<rect x="153.05" y="325.8" width="4.85" height="17.2" fill="#f4dfb3"/>
<rect x="154.2" y="325.8" width="3.7" height="16" fill="#ecc676"/>
<rect x="157.9" y="308.5" width="4.85" height="16.2" fill="#fcf2e6"/>
<rect x="159.05" y="308.5" width="3.7" height="15" fill="#fae5cd"/>
<rect x="157.9" y="325.8" width="4.85" height="17.2" fill="#90acd5"/>
<rect x="159.05" y="325.8" width="3.7" height="16" fill="#3669b4"/>
<rect x="162.75" y="308.5" width="4.85" height="16.2" fill="#fcf2e6"/>
<rect x="163.9" y="308.5" width="3.7" height="15" fill="#fae5cd"/>
<rect x="162.75" y="325.8" width="4.85" height="17.2" fill="#90acd5"/>
<rect x="163.9" y="325.8" width="3.7" height="16" fill="#3669b4"/>
<rect x="167.6" y="308.5" width="4.85" height="16.2" fill="#fcf2e6"/>
<rect x="168.75" y="308.5" width="3.7" height="15" fill="#fae5cd"/>
<rect x="167.6" y="325.8" width="4.85" height="17.2" fill="#90acd5"/>
<rect x="168.75" y="325.8" width="3.7" height="16" fill="#3669b4"/>
<rect x="172.45" y="308.5" width="4.85" height="16.2" fill="#fcf2e6"/>
<rect x="173.6" y="308.5" width="3.7" height="15" fill="#fae5cd"/>
<rect x="172.45" y="325.8" width="4.85" height="17.2" fill="#f4dfb3"/>
<rect x="173.6" y="325.8" width="3.7" height="16" fill="#ecc676"/>
<rect x="177.3" y="308.5" width="4.85" height="16.2" fill="#fcf2e6"/>
<rect x="178.45" y="308.5" width="3.7" height="15" fill="#fae5cd"/>
<rect x="177.3" y="325.8" width="4.85" height="17.2" fill="#90acd5"/>
<rect x="178.45" y="325.8" width="3.7" height="16" fill="#3669b4"/>
<rect x="182.15" y="308.5" width="4.85" height="16.2" fill="#fcf2e6"/>
<rect x="183.3" y="308.5" width="3.7" height="15" fill="#fae5cd"/>
<rect x="182.15" y="325.8" width="4.85" height="17.2" fill="#f4dfb3"/>
<rect x="183.3" y="325.8" width="3.7" height="16" fill="#ecc676"/>
<rect x="187" y="308.5" width="4.85" height="16.2" fill="#fcf2e6"/>
<rect x="188.15" y="308.5" width="3.7" height="15" fill="#fae5cd"/>
<rect x="187" y="325.8" width="4.85" height="17.2" fill="#f4dfb3"/>
<rect x="188.15" y="325.8" width="3.7" height="16" fill="#ecc676"/>
<rect x="191.85" y="308.5" width="4.85" height="16.2" fill="#fcf2e6"/>
<rect x="193" y="308.5" width="3.7" height="15" fill="#fae5cd"/>
<rect x="191.85" y="325.8" width="4.85" height="17.2" fill="#f4dfb3"/>
<rect x="193" y="325.8" width="3.7" height="16" fill="#ecc676"/>
<rect x="196.7" y="308.5" width="4.85" height="16.2" fill="#fcf2e6"/>
<rect x="197.85" y="308.5" width="3.7" height="15" fill="#fae5cd"/>
<rect x="196.7" y="325.8" width="4.85" height="17.2" fill="#f4dfb3"/>
<rect x="197.85" y="325.8" width="3.7" height="16" fill="#ecc676"/>
<rect x="201.55" y="308.5" width="4.85" height="16.2" fill="#fcf2e6"/>
<rect x="202.7" y="308.5" width="3.7" height="15" fill="#fae5cd"/>
<rect x="201.55" y="325.8" width="4.85" height="17.2" fill="#f4dfb3"/>
<rect x="202.7" y="325.8" width="3.7" height="16" fill="#ecc676"/>
<rect x="206.4" y="308.5" width="4.85" height="16.2" fill="#fcf2e6"/>
<rect x="207.55" y="308.5" width="3.7" height="15" fill="#fae5cd"/>
<rect x="206.4" y="325.8" width="4.85" height="17.2" fill="#f4dfb3"/>
<rect x="207.55" y="325.8" width="3.7" height="16" fill="#ecc676"/>
<rect x="211.25" y="308.5" width="4.85" height="16.2" fill="#fcf2e6"/>
<rect x="212.4" y="308.5" width="3.7" height="15" fill="#fae5cd"/>
<rect x="211.25" y="325.8" width="4.85" height="17.2" fill="#f4dfb3"/>
<rect x="212.4" y="325.8" width="3.7" height="16" fill="#ecc676"/>
<rect x="216.1" y="308.5" width="4.85" height="16.2" fill="#fcf2e6"/>
<rect x="217.25" y="308.5" width="3.7" height="15" fill="#fae5cd"/>
<rect x="216.1" y="325.8" width="4.85" height="17.2" fill="#d7d7d8"/>
<rect x="217.25" y="325.8" width="3.7" height="16" fill="#b7b7b9"/>
<text x="40.8" y="176" font-size="8.4" text-anchor="end" font-style="italic">RPS15</text>
<text x="40.8" y="193.1" font-size="8.4" text-anchor="end" font-style="italic">TP53</text>
<text x="40.8" y="210.2" font-size="8.4" text-anchor="end" font-style="italic">NOTCH1</text>
<text x="40.8" y="227.2" font-size="8.4" text-anchor="end" font-style="italic">SF3B1</text>
<text x="40.8" y="247.7" font-size="8.4" text-anchor="end">del(17p)</text>
<text x="40.8" y="264.7" font-size="8.4" text-anchor="end">del(11q)</text>
<text x="40.8" y="281.7" font-size="8.4" text-anchor="end">trisomy 12</text>
<text x="40.8" y="298.7" font-size="8.4" text-anchor="end">del(13q)</text>
<text x="40.8" y="320.2" font-size="8.4" text-anchor="end">IGHV</text>
<text x="40.8" y="337.5" font-size="8.4" text-anchor="end">Gender</text>
<rect x="231" y="166" width="5.9" height="5.8" fill="#5f9ac6"/>
<text x="242.7" y="171.7" font-size="7.7">Mutated</text>
<rect x="231.5" y="176.5" width="4.9" height="4.8" fill="#fff" stroke="#666" stroke-width="0.9"/>
<text x="242.7" y="181.7" font-size="7.7">Wild-type</text>
<rect x="231" y="189.5" width="5.9" height="5.8" fill="#b9d298"/>
<text x="242.7" y="195.2" font-size="7.7">CNA</text>
<rect x="231" y="200" width="5.9" height="5.8" fill="#fae8d3"/>
<text x="242.7" y="205.7" font-size="7.7">IGHV-U</text>
<rect x="231" y="208.7" width="5.9" height="5.8" fill="#ddadab"/>
<text x="242.7" y="214.4" font-size="7.7">IGHV-M</text>
<rect x="231" y="221.3" width="5.9" height="5.8" fill="#eecc86"/>
<text x="242.7" y="227" font-size="7.7">Male</text>
<rect x="231" y="229.8" width="5.9" height="5.8" fill="#4e7bbd"/>
<text x="242.7" y="235.5" font-size="7.7">Female</text>
<rect x="231" y="243.6" width="5.9" height="5.8" fill="#bfbfc1"/>
<text x="242.7" y="249.3" font-size="7.7">NA</text>
<text x="282.5" y="163.6" font-size="11.5" font-weight="bold">D</text>
<rect x="333.5" y="164.4" width="5.35" height="17" fill="#8ecaf0"/>
<rect x="334.5" y="164.4" width="4.35" height="15.8" fill="#4a8dbf"/>
<rect x="338.85" y="164.4" width="5.35" height="17" fill="#8ecaf0"/>
<rect x="339.85" y="164.4" width="4.35" height="15.8" fill="#4a8dbf"/>
<rect x="344.2" y="164.4" width="5.35" height="17" fill="#8ecaf0"/>
<rect x="345.2" y="164.4" width="4.35" height="15.8" fill="#4a8dbf"/>
<rect x="349.55" y="164.4" width="5.35" height="17" fill="#8ecaf0"/>
<rect x="350.55" y="164.4" width="4.35" height="15.8" fill="#4a8dbf"/>
<rect x="354.9" y="164.4" width="5.35" height="17" fill="#8ecaf0"/>
<rect x="355.9" y="164.4" width="4.35" height="15.8" fill="#4a8dbf"/>
<rect x="360.25" y="164.4" width="5.35" height="17" fill="#8ecaf0"/>
<rect x="361.25" y="164.4" width="4.35" height="15.8" fill="#4a8dbf"/>
<rect x="365.6" y="164.4" width="5.35" height="17" fill="#8ecaf0"/>
<rect x="366.6" y="164.4" width="4.35" height="15.8" fill="#4a8dbf"/>
<rect x="370.95" y="164.4" width="5.35" height="17" fill="#8ecaf0"/>
<rect x="371.95" y="164.4" width="4.35" height="15.8" fill="#4a8dbf"/>
<rect x="376.3" y="164.4" width="5.35" height="17" fill="#8ecaf0"/>
<rect x="377.3" y="164.4" width="4.35" height="15.8" fill="#4a8dbf"/>
<rect x="381.65" y="164.4" width="5.35" height="17" fill="#8ecaf0"/>
<rect x="382.65" y="164.4" width="4.35" height="15.8" fill="#4a8dbf"/>
<rect x="387" y="164.4" width="5.35" height="17" fill="#8ecaf0"/>
<rect x="388" y="164.4" width="4.35" height="15.8" fill="#4a8dbf"/>
<rect x="392.35" y="164.4" width="5.35" height="17" fill="#8ecaf0"/>
<rect x="393.35" y="164.4" width="4.35" height="15.8" fill="#4a8dbf"/>
<rect x="333.5" y="181.5" width="5.35" height="17" fill="#8ecaf0"/>
<rect x="334.5" y="181.5" width="4.35" height="15.8" fill="#4a8dbf"/>
<rect x="338.85" y="181.5" width="5.35" height="17" fill="#8ecaf0"/>
<rect x="339.85" y="181.5" width="4.35" height="15.8" fill="#4a8dbf"/>
<rect x="344.2" y="181.5" width="5.35" height="17" fill="#8ecaf0"/>
<rect x="345.2" y="181.5" width="4.35" height="15.8" fill="#4a8dbf"/>
<rect x="350.55" y="181.5" width="4.35" height="15.8" fill="#f9f9f9"/>
<rect x="355.9" y="181.5" width="4.35" height="15.8" fill="#f9f9f9"/>
<rect x="361.25" y="181.5" width="4.35" height="15.8" fill="#f9f9f9"/>
<rect x="366.6" y="181.5" width="4.35" height="15.8" fill="#f9f9f9"/>
<rect x="371.95" y="181.5" width="4.35" height="15.8" fill="#f9f9f9"/>
<rect x="377.3" y="181.5" width="4.35" height="15.8" fill="#f9f9f9"/>
<rect x="382.65" y="181.5" width="4.35" height="15.8" fill="#f9f9f9"/>
<rect x="388" y="181.5" width="4.35" height="15.8" fill="#f9f9f9"/>
<rect x="392.35" y="181.5" width="5.35" height="17" fill="#d7d7d8"/>
<rect x="393.35" y="181.5" width="4.35" height="15.8" fill="#b7b7b9"/>
<rect x="334.5" y="198.6" width="4.35" height="15.8" fill="#f9f9f9"/>
<rect x="339.85" y="198.6" width="4.35" height="15.8" fill="#f9f9f9"/>
<rect x="344.2" y="198.6" width="5.35" height="17" fill="#d7d7d8"/>
<rect x="345.2" y="198.6" width="4.35" height="15.8" fill="#b7b7b9"/>
<rect x="350.55" y="198.6" width="4.35" height="15.8" fill="#f9f9f9"/>
<rect x="355.9" y="198.6" width="4.35" height="15.8" fill="#f9f9f9"/>
<rect x="361.25" y="198.6" width="4.35" height="15.8" fill="#f9f9f9"/>
<rect x="366.6" y="198.6" width="4.35" height="15.8" fill="#f9f9f9"/>
<rect x="371.95" y="198.6" width="4.35" height="15.8" fill="#f9f9f9"/>
<rect x="377.3" y="198.6" width="4.35" height="15.8" fill="#f9f9f9"/>
<rect x="382.65" y="198.6" width="4.35" height="15.8" fill="#f9f9f9"/>
<rect x="388" y="198.6" width="4.35" height="15.8" fill="#f9f9f9"/>
<rect x="392.35" y="198.6" width="5.35" height="17" fill="#d7d7d8"/>
<rect x="393.35" y="198.6" width="4.35" height="15.8" fill="#b7b7b9"/>
<rect x="334.5" y="215.6" width="4.35" height="15.8" fill="#f9f9f9"/>
<rect x="339.85" y="215.6" width="4.35" height="15.8" fill="#f9f9f9"/>
<rect x="344.2" y="215.6" width="5.35" height="17" fill="#d7d7d8"/>
<rect x="345.2" y="215.6" width="4.35" height="15.8" fill="#b7b7b9"/>
<rect x="350.55" y="215.6" width="4.35" height="15.8" fill="#f9f9f9"/>
<rect x="355.9" y="215.6" width="4.35" height="15.8" fill="#f9f9f9"/>
<rect x="361.25" y="215.6" width="4.35" height="15.8" fill="#f9f9f9"/>
<rect x="366.6" y="215.6" width="4.35" height="15.8" fill="#f9f9f9"/>
<rect x="371.95" y="215.6" width="4.35" height="15.8" fill="#f9f9f9"/>
<rect x="377.3" y="215.6" width="4.35" height="15.8" fill="#f9f9f9"/>
<rect x="382.65" y="215.6" width="4.35" height="15.8" fill="#f9f9f9"/>
<rect x="388" y="215.6" width="4.35" height="15.8" fill="#f9f9f9"/>
<rect x="392.35" y="215.6" width="5.35" height="17" fill="#d7d7d8"/>
<rect x="393.35" y="215.6" width="4.35" height="15.8" fill="#b7b7b9"/>
<rect x="333.5" y="236.1" width="5.35" height="17.3" fill="#d3e2be"/>
<rect x="334.5" y="236.1" width="4.35" height="16.1" fill="#b0cc8a"/>
<rect x="339.85" y="236.1" width="4.35" height="16.1" fill="#f9f9f9"/>
<rect x="344.2" y="236.1" width="5.35" height="17.3" fill="#d3e2be"/>
<rect x="345.2" y="236.1" width="4.35" height="16.1" fill="#b0cc8a"/>
<rect x="350.55" y="236.1" width="4.35" height="16.1" fill="#f9f9f9"/>
<rect x="355.9" y="236.1" width="4.35" height="16.1" fill="#f9f9f9"/>
<rect x="361.25" y="236.1" width="4.35" height="16.1" fill="#f9f9f9"/>
<rect x="366.6" y="236.1" width="4.35" height="16.1" fill="#f9f9f9"/>
<rect x="371.95" y="236.1" width="4.35" height="16.1" fill="#f9f9f9"/>
<rect x="377.3" y="236.1" width="4.35" height="16.1" fill="#f9f9f9"/>
<rect x="382.65" y="236.1" width="4.35" height="16.1" fill="#f9f9f9"/>
<rect x="388" y="236.1" width="4.35" height="16.1" fill="#f9f9f9"/>
<rect x="392.35" y="236.1" width="5.35" height="17.3" fill="#d7d7d8"/>
<rect x="393.35" y="236.1" width="4.35" height="16.1" fill="#b7b7b9"/>
<rect x="334.5" y="253.1" width="4.35" height="16.1" fill="#f9f9f9"/>
<rect x="339.85" y="253.1" width="4.35" height="16.1" fill="#f9f9f9"/>
<rect x="345.2" y="253.1" width="4.35" height="16.1" fill="#f9f9f9"/>
<rect x="349.55" y="253.1" width="5.35" height="17.3" fill="#d3e2be"/>
<rect x="350.55" y="253.1" width="4.35" height="16.1" fill="#b0cc8a"/>
<rect x="355.9" y="253.1" width="4.35" height="16.1" fill="#f9f9f9"/>
<rect x="361.25" y="253.1" width="4.35" height="16.1" fill="#f9f9f9"/>
<rect x="366.6" y="253.1" width="4.35" height="16.1" fill="#f9f9f9"/>
<rect x="371.95" y="253.1" width="4.35" height="16.1" fill="#f9f9f9"/>
<rect x="377.3" y="253.1" width="4.35" height="16.1" fill="#f9f9f9"/>
<rect x="382.65" y="253.1" width="4.35" height="16.1" fill="#f9f9f9"/>
<rect x="388" y="253.1" width="4.35" height="16.1" fill="#f9f9f9"/>
<rect x="392.35" y="253.1" width="5.35" height="17.3" fill="#d7d7d8"/>
<rect x="393.35" y="253.1" width="4.35" height="16.1" fill="#b7b7b9"/>
<rect x="334.5" y="270.1" width="4.35" height="16.1" fill="#f9f9f9"/>
<rect x="339.85" y="270.1" width="4.35" height="16.1" fill="#f9f9f9"/>
<rect x="345.2" y="270.1" width="4.35" height="16.1" fill="#f9f9f9"/>
<rect x="349.55" y="270.1" width="5.35" height="17.3" fill="#d3e2be"/>
<rect x="350.55" y="270.1" width="4.35" height="16.1" fill="#b0cc8a"/>
<rect x="354.9" y="270.1" width="5.35" height="17.3" fill="#d3e2be"/>
<rect x="355.9" y="270.1" width="4.35" height="16.1" fill="#b0cc8a"/>
<rect x="360.25" y="270.1" width="5.35" height="17.3" fill="#d3e2be"/>
<rect x="361.25" y="270.1" width="4.35" height="16.1" fill="#b0cc8a"/>
<rect x="366.6" y="270.1" width="4.35" height="16.1" fill="#f9f9f9"/>
<rect x="371.95" y="270.1" width="4.35" height="16.1" fill="#f9f9f9"/>
<rect x="377.3" y="270.1" width="4.35" height="16.1" fill="#f9f9f9"/>
<rect x="382.65" y="270.1" width="4.35" height="16.1" fill="#f9f9f9"/>
<rect x="388" y="270.1" width="4.35" height="16.1" fill="#f9f9f9"/>
<rect x="392.35" y="270.1" width="5.35" height="17.3" fill="#d7d7d8"/>
<rect x="393.35" y="270.1" width="4.35" height="16.1" fill="#b7b7b9"/>
<rect x="334.5" y="287.1" width="4.35" height="16.1" fill="#f9f9f9"/>
<rect x="338.85" y="287.1" width="5.35" height="17.3" fill="#d3e2be"/>
<rect x="339.85" y="287.1" width="4.35" height="16.1" fill="#b0cc8a"/>
<rect x="345.2" y="287.1" width="4.35" height="16.1" fill="#f9f9f9"/>
<rect x="350.55" y="287.1" width="4.35" height="16.1" fill="#f9f9f9"/>
<rect x="354.9" y="287.1" width="5.35" height="17.3" fill="#d3e2be"/>
<rect x="355.9" y="287.1" width="4.35" height="16.1" fill="#b0cc8a"/>
<rect x="361.25" y="287.1" width="4.35" height="16.1" fill="#f9f9f9"/>
<rect x="365.6" y="287.1" width="5.35" height="17.3" fill="#d3e2be"/>
<rect x="366.6" y="287.1" width="4.35" height="16.1" fill="#b0cc8a"/>
<rect x="370.95" y="287.1" width="5.35" height="17.3" fill="#d3e2be"/>
<rect x="371.95" y="287.1" width="4.35" height="16.1" fill="#b0cc8a"/>
<rect x="377.3" y="287.1" width="4.35" height="16.1" fill="#f9f9f9"/>
<rect x="382.65" y="287.1" width="4.35" height="16.1" fill="#f9f9f9"/>
<rect x="388" y="287.1" width="4.35" height="16.1" fill="#f9f9f9"/>
<rect x="392.35" y="287.1" width="5.35" height="17.3" fill="#d7d7d8"/>
<rect x="393.35" y="287.1" width="4.35" height="16.1" fill="#b7b7b9"/>
<rect x="333.5" y="308.5" width="5.35" height="16.2" fill="#fcf2e6"/>
<rect x="334.5" y="308.5" width="4.35" height="15" fill="#fae5cd"/>
<rect x="333.5" y="325.8" width="5.35" height="17.2" fill="#f4dfb3"/>
<rect x="334.5" y="325.8" width="4.35" height="16" fill="#ecc676"/>
<rect x="338.85" y="308.5" width="5.35" height="16.2" fill="#dbdbdc"/>
<rect x="339.85" y="308.5" width="4.35" height="15" fill="#b7b7b9"/>
<rect x="338.85" y="325.8" width="5.35" height="17.2" fill="#90acd5"/>
<rect x="339.85" y="325.8" width="4.35" height="16" fill="#3669b4"/>
<rect x="344.2" y="308.5" width="5.35" height="16.2" fill="#fcf2e6"/>
<rect x="345.2" y="308.5" width="4.35" height="15" fill="#fae5cd"/>
<rect x="344.2" y="325.8" width="5.35" height="17.2" fill="#f4dfb3"/>
<rect x="345.2" y="325.8" width="4.35" height="16" fill="#ecc676"/>
<rect x="349.55" y="308.5" width="5.35" height="16.2" fill="#fcf2e6"/>
<rect x="350.55" y="308.5" width="4.35" height="15" fill="#fae5cd"/>
<rect x="349.55" y="325.8" width="5.35" height="17.2" fill="#f4dfb3"/>
<rect x="350.55" y="325.8" width="4.35" height="16" fill="#ecc676"/>
<rect x="354.9" y="308.5" width="5.35" height="16.2" fill="#dbdbdc"/>
<rect x="355.9" y="308.5" width="4.35" height="15" fill="#b7b7b9"/>
<rect x="354.9" y="325.8" width="5.35" height="17.2" fill="#f4dfb3"/>
<rect x="355.9" y="325.8" width="4.35" height="16" fill="#ecc676"/>
<rect x="360.25" y="308.5" width="5.35" height="16.2" fill="#fcf2e6"/>
<rect x="361.25" y="308.5" width="4.35" height="15" fill="#fae5cd"/>
<rect x="360.25" y="325.8" width="5.35" height="17.2" fill="#f4dfb3"/>
<rect x="361.25" y="325.8" width="4.35" height="16" fill="#ecc676"/>
<rect x="365.6" y="308.5" width="5.35" height="16.2" fill="#fcf2e6"/>
<rect x="366.6" y="308.5" width="4.35" height="15" fill="#fae5cd"/>
<rect x="365.6" y="325.8" width="5.35" height="17.2" fill="#f4dfb3"/>
<rect x="366.6" y="325.8" width="4.35" height="16" fill="#ecc676"/>
<rect x="370.95" y="308.5" width="5.35" height="16.2" fill="#ecd0cf"/>
<rect x="371.95" y="308.5" width="4.35" height="15" fill="#d9a2a0"/>
<rect x="370.95" y="325.8" width="5.35" height="17.2" fill="#f4dfb3"/>
<rect x="371.95" y="325.8" width="4.35" height="16" fill="#ecc676"/>
<rect x="376.3" y="308.5" width="5.35" height="16.2" fill="#fcf2e6"/>
<rect x="377.3" y="308.5" width="4.35" height="15" fill="#fae5cd"/>
<rect x="376.3" y="325.8" width="5.35" height="17.2" fill="#f4dfb3"/>
<rect x="377.3" y="325.8" width="4.35" height="16" fill="#ecc676"/>
<rect x="381.65" y="308.5" width="5.35" height="16.2" fill="#fcf2e6"/>
<rect x="382.65" y="308.5" width="4.35" height="15" fill="#fae5cd"/>
<rect x="381.65" y="325.8" width="5.35" height="17.2" fill="#f4dfb3"/>
<rect x="382.65" y="325.8" width="4.35" height="16" fill="#ecc676"/>
<rect x="387" y="308.5" width="5.35" height="16.2" fill="#dbdbdc"/>
<rect x="388" y="308.5" width="4.35" height="15" fill="#b7b7b9"/>
<rect x="387" y="325.8" width="5.35" height="17.2" fill="#f4dfb3"/>
<rect x="388" y="325.8" width="4.35" height="16" fill="#ecc676"/>
<rect x="392.35" y="308.5" width="5.35" height="16.2" fill="#fcf2e6"/>
<rect x="393.35" y="308.5" width="4.35" height="15" fill="#fae5cd"/>
<rect x="392.35" y="325.8" width="5.35" height="17.2" fill="#90acd5"/>
<rect x="393.35" y="325.8" width="4.35" height="16" fill="#3669b4"/>
<text x="327.7" y="176" font-size="8.4" text-anchor="end" font-style="italic">RPS15</text>
<text x="327.7" y="193.1" font-size="8.4" text-anchor="end" font-style="italic">TP53</text>
<text x="327.7" y="210.2" font-size="8.4" text-anchor="end" font-style="italic">NOTCH1</text>
<text x="327.7" y="227.2" font-size="8.4" text-anchor="end" font-style="italic">SF3B1</text>
<text x="327.7" y="247.7" font-size="8.4" text-anchor="end">del(17p)</text>
<text x="327.7" y="264.7" font-size="8.4" text-anchor="end">del(11q)</text>
<text x="327.7" y="281.7" font-size="8.4" text-anchor="end">trisomy 12</text>
<text x="327.7" y="298.7" font-size="8.4" text-anchor="end">del(13q)</text>
<text x="327.7" y="320.2" font-size="8.4" text-anchor="end">IGHV</text>
<text x="327.7" y="337.5" font-size="8.4" text-anchor="end">Gender</text>
<rect x="408.2" y="166" width="5.9" height="5.8" fill="#5f9ac6"/>
<text x="419.9" y="171.7" font-size="7.7">Mutated</text>
<rect x="408.7" y="176.5" width="4.9" height="4.8" fill="#fff" stroke="#666" stroke-width="0.9"/>
<text x="419.9" y="181.7" font-size="7.7">Wild-type</text>
<rect x="408.2" y="189.5" width="5.9" height="5.8" fill="#b9d298"/>
<text x="419.9" y="195.2" font-size="7.7">CNA</text>
<rect x="408.2" y="200" width="5.9" height="5.8" fill="#fae8d3"/>
<text x="419.9" y="205.7" font-size="7.7">IGHV-U</text>
<rect x="408.2" y="208.7" width="5.9" height="5.8" fill="#ddadab"/>
<text x="419.9" y="214.4" font-size="7.7">IGHV-M</text>
<rect x="408.2" y="221.3" width="5.9" height="5.8" fill="#eecc86"/>
<text x="419.9" y="227" font-size="7.7">Male</text>
<rect x="408.2" y="229.8" width="5.9" height="5.8" fill="#4e7bbd"/>
<text x="419.9" y="235.5" font-size="7.7">Female</text>
<rect x="408.2" y="243.6" width="5.9" height="5.8" fill="#bfbfc1"/>
<text x="419.9" y="249.3" font-size="7.7">NA</text>
<text x="0.1" y="367.7" font-size="11.5" font-weight="bold">E</text>
<line x1="30" y1="359.6" x2="30" y2="509.9" stroke="#111" stroke-width="1.2"/>
<line x1="29.4" y1="509.3" x2="233" y2="509.3" stroke="#111" stroke-width="1.2"/>
<line x1="28.5" y1="509.3" x2="30" y2="509.3" stroke="#111" stroke-width="0.6"/>
<text x="27.7" y="511.1" font-size="5.1" text-anchor="end">0</text>
<line x1="28.5" y1="471.88" x2="30" y2="471.88" stroke="#111" stroke-width="0.6"/>
<text x="27.7" y="473.68" font-size="5.1" text-anchor="end">25</text>
<line x1="28.5" y1="434.45" x2="30" y2="434.45" stroke="#111" stroke-width="0.6"/>
<text x="27.7" y="436.25" font-size="5.1" text-anchor="end">50</text>
<line x1="28.5" y1="397.02" x2="30" y2="397.02" stroke="#111" stroke-width="0.6"/>
<text x="27.7" y="398.82" font-size="5.1" text-anchor="end">75</text>
<line x1="28.5" y1="359.6" x2="30" y2="359.6" stroke="#111" stroke-width="0.6"/>
<text x="27.7" y="361.4" font-size="5.1" text-anchor="end">100</text>
<line x1="30" y1="509.3" x2="30" y2="510.8" stroke="#111" stroke-width="0.6"/>
<text x="30" y="516.9" font-size="5.1" text-anchor="middle">0</text>
<line x1="50.28" y1="509.3" x2="50.28" y2="510.8" stroke="#111" stroke-width="0.6"/>
<text x="50.28" y="516.9" font-size="5.1" text-anchor="middle">24</text>
<line x1="70.56" y1="509.3" x2="70.56" y2="510.8" stroke="#111" stroke-width="0.6"/>
<text x="70.56" y="516.9" font-size="5.1" text-anchor="middle">48</text>
<line x1="90.84" y1="509.3" x2="90.84" y2="510.8" stroke="#111" stroke-width="0.6"/>
<text x="90.84" y="516.9" font-size="5.1" text-anchor="middle">72</text>
<line x1="111.12" y1="509.3" x2="111.12" y2="510.8" stroke="#111" stroke-width="0.6"/>
<text x="111.12" y="516.9" font-size="5.1" text-anchor="middle">96</text>
<line x1="131.4" y1="509.3" x2="131.4" y2="510.8" stroke="#111" stroke-width="0.6"/>
<text x="131.4" y="516.9" font-size="5.1" text-anchor="middle">120</text>
<line x1="151.68" y1="509.3" x2="151.68" y2="510.8" stroke="#111" stroke-width="0.6"/>
<text x="151.68" y="516.9" font-size="5.1" text-anchor="middle">144</text>
<line x1="171.96" y1="509.3" x2="171.96" y2="510.8" stroke="#111" stroke-width="0.6"/>
<text x="171.96" y="516.9" font-size="5.1" text-anchor="middle">168</text>
<line x1="192.24" y1="509.3" x2="192.24" y2="510.8" stroke="#111" stroke-width="0.6"/>
<text x="192.24" y="516.9" font-size="5.1" text-anchor="middle">192</text>
<line x1="212.52" y1="509.3" x2="212.52" y2="510.8" stroke="#111" stroke-width="0.6"/>
<text x="212.52" y="516.9" font-size="5.1" text-anchor="middle">216</text>
<line x1="232.8" y1="509.3" x2="232.8" y2="510.8" stroke="#111" stroke-width="0.6"/>
<text x="232.8" y="516.9" font-size="5.1" text-anchor="middle">240</text>
<text x="86.6" y="525.1" font-size="5.95">Time (months from sampling date)</text>
<text transform="translate(17,434.05) rotate(-90)" font-size="5.85" text-anchor="middle">Patients surviving (%)</text>
<text x="282" y="367.7" font-size="11.5" font-weight="bold">F</text>
<line x1="310.9" y1="359.4" x2="310.9" y2="510.4" stroke="#111" stroke-width="1.2"/>
<line x1="310.3" y1="509.8" x2="515.6" y2="509.8" stroke="#111" stroke-width="1.2"/>
<line x1="309.4" y1="509.8" x2="310.9" y2="509.8" stroke="#111" stroke-width="0.6"/>
<text x="308.6" y="511.6" font-size="5.1" text-anchor="end">0</text>
<line x1="309.4" y1="472.2" x2="310.9" y2="472.2" stroke="#111" stroke-width="0.6"/>
<text x="308.6" y="474" font-size="5.1" text-anchor="end">25</text>
<line x1="309.4" y1="434.6" x2="310.9" y2="434.6" stroke="#111" stroke-width="0.6"/>
<text x="308.6" y="436.4" font-size="5.1" text-anchor="end">50</text>
<line x1="309.4" y1="397" x2="310.9" y2="397" stroke="#111" stroke-width="0.6"/>
<text x="308.6" y="398.8" font-size="5.1" text-anchor="end">75</text>
<line x1="309.4" y1="359.4" x2="310.9" y2="359.4" stroke="#111" stroke-width="0.6"/>
<text x="308.6" y="361.2" font-size="5.1" text-anchor="end">100</text>
<line x1="310.9" y1="509.8" x2="310.9" y2="511.3" stroke="#111" stroke-width="0.6"/>
<text x="310.9" y="517.4" font-size="5.1" text-anchor="middle">0</text>
<line x1="336.48" y1="509.8" x2="336.48" y2="511.3" stroke="#111" stroke-width="0.6"/>
<text x="336.48" y="517.4" font-size="5.1" text-anchor="middle">24</text>
<line x1="362.07" y1="509.8" x2="362.07" y2="511.3" stroke="#111" stroke-width="0.6"/>
<text x="362.07" y="517.4" font-size="5.1" text-anchor="middle">48</text>
<line x1="387.65" y1="509.8" x2="387.65" y2="511.3" stroke="#111" stroke-width="0.6"/>
<text x="387.65" y="517.4" font-size="5.1" text-anchor="middle">72</text>
<line x1="413.24" y1="509.8" x2="413.24" y2="511.3" stroke="#111" stroke-width="0.6"/>
<text x="413.24" y="517.4" font-size="5.1" text-anchor="middle">96</text>
<line x1="438.82" y1="509.8" x2="438.82" y2="511.3" stroke="#111" stroke-width="0.6"/>
<text x="438.82" y="517.4" font-size="5.1" text-anchor="middle">120</text>
<line x1="464.4" y1="509.8" x2="464.4" y2="511.3" stroke="#111" stroke-width="0.6"/>
<text x="464.4" y="517.4" font-size="5.1" text-anchor="middle">144</text>
<line x1="489.99" y1="509.8" x2="489.99" y2="511.3" stroke="#111" stroke-width="0.6"/>
<text x="489.99" y="517.4" font-size="5.1" text-anchor="middle">168</text>
<line x1="515.57" y1="509.8" x2="515.57" y2="511.3" stroke="#111" stroke-width="0.6"/>
<text x="515.57" y="517.4" font-size="5.1" text-anchor="middle">192</text>
<text x="368" y="525.6" font-size="5.95">Time (months from sampling date)</text>
<text transform="translate(296.4,434.2) rotate(-90)" font-size="5.85" text-anchor="middle">Patients surviving (%)</text>
<line x1="169.9" y1="363.7" x2="180.2" y2="363.7" stroke="#e0cf62" stroke-width="1"/>
<text x="182.1" y="365.3" font-size="5.8">del(13q), n=209</text>
<line x1="169.9" y1="370.48" x2="180.2" y2="370.48" stroke="#623f92" stroke-width="1"/>
<text x="182.1" y="372.08" font-size="5.8">no RCA, n=135</text>
<line x1="169.9" y1="377.26" x2="180.2" y2="377.26" stroke="#111" stroke-width="1"/>
<text x="182.1" y="378.86" font-size="5.8">trisomy12, n=57</text>
<line x1="169.9" y1="384.04" x2="180.2" y2="384.04" stroke="#888" stroke-width="1"/>
<text x="182.1" y="385.64" font-size="5.8">del(11q), n=101</text>
<line x1="169.9" y1="390.82" x2="180.2" y2="390.82" stroke="#c93f48" stroke-width="1"/>
<text x="182.1" y="392.42" font-size="5.8"><tspan font-style="italic">RPS15</tspan>, n=20</text>
<line x1="169.9" y1="397.6" x2="180.2" y2="397.6" stroke="#48609e" stroke-width="1"/>
<text x="182.1" y="399.2" font-size="5.8"><tspan font-style="italic">TP53</tspan>, n=79</text>
<line x1="169.9" y1="404.38" x2="180.2" y2="404.38" stroke="#a6c070" stroke-width="1"/>
<text x="182.1" y="405.98" font-size="5.8"><tspan font-style="italic">RPS15</tspan>&amp;<tspan font-style="italic">TP53</tspan>, n=12</text>
<line x1="452.4" y1="361.9" x2="462.7" y2="361.9" stroke="#111" stroke-width="1"/>
<text x="464.6" y="363.5" font-size="5.8"><tspan font-style="italic">NOTCH1</tspan>, n=28</text>
<line x1="452.4" y1="368.75" x2="462.7" y2="368.75" stroke="#aaa" stroke-width="1"/>
<text x="464.6" y="370.35" font-size="5.8"><tspan font-style="italic">SF3B1</tspan>, n=49</text>
<line x1="452.4" y1="375.6" x2="462.7" y2="375.6" stroke="#c93f48" stroke-width="1"/>
<text x="464.6" y="377.2" font-size="5.8"><tspan font-style="italic">RPS15</tspan>, n=20</text>
<line x1="452.4" y1="382.45" x2="462.7" y2="382.45" stroke="#48609e" stroke-width="1"/>
<text x="464.6" y="384.05" font-size="5.8"><tspan font-style="italic">TP53</tspan>, n=79</text>
<line x1="452.4" y1="389.3" x2="462.7" y2="389.3" stroke="#a6c070" stroke-width="1"/>
<text x="464.6" y="390.9" font-size="5.8"><tspan font-style="italic">RPS15</tspan>&amp;<tspan font-style="italic">TP53</tspan>, n=12</text>
<text x="123" y="401.3" font-size="5.2" font-weight="bold" style="stroke-width:0.05px">p &lt; 0.001</text>
<text x="429.6" y="434.8" font-size="5.2" font-weight="bold" style="stroke-width:0.05px">p = 0.002</text>
<path d="M30,359.6 L31.8,359.6 L31.8,359.9 L35.7,359.9 L35.7,361 L37.6,361 L37.6,362.35 L39.5,362.35 L39.5,363.7 L41.45,363.7 L41.45,364.85 L43.4,364.85 L43.4,366 L45.7,366 L45.7,367.15 L48,367.15 L48,368.3 L50.7,368.3 L50.7,369.85 L53.4,369.85 L53.4,371.4 L56.1,371.4 L56.1,372.95 L58.8,372.95 L58.8,374.5 L61.1,374.5 L61.1,376 L63.4,376 L63.4,377.5 L65.7,377.5 L65.7,379.05 L68,379.05 L68,380.6 L70.07,380.6 L70.07,382.33 L72.13,382.33 L72.13,384.07 L74.2,384.07 L74.2,385.8 L76.39,385.8 L76.39,387.23 L78.57,387.23 L78.57,388.66 L80.76,388.66 L80.76,390.09 L82.94,390.09 L82.94,391.51 L85.13,391.51 L85.13,392.94 L87.31,392.94 L87.31,394.37 L89.5,394.37 L89.5,395.8 L92.1,395.8 L92.1,397.2 L94.7,397.2 L94.7,398.6 L97.3,398.6 L97.3,400 L98.83,400 L98.83,401.53 L100.37,401.53 L100.37,403.07 L101.9,403.07 L101.9,404.6 L103.43,404.6 L103.43,405.97 L104.97,405.97 L104.97,407.33 L106.5,407.33 L106.5,408.7 L109.4,408.7 L109.4,409.85 L112.3,409.85 L112.3,411 L115.2,411 L115.2,412.7 L118.1,412.7 L118.1,414.4 L121.55,414.4 L121.55,415.55 L125,415.55 L125,416.7 L127.3,416.7 L127.3,418.15 L129.6,418.15 L129.6,419.6 L132.5,419.6 L132.5,421.05 L135.4,421.05 L135.4,422.5 L138.25,422.5 L138.25,423.65 L141.1,423.65 L141.1,424.8 L143.4,424.8 L143.4,426.25 L145.7,426.25 L145.7,427.7 L148.05,427.7 L148.05,428.95 L150.4,428.95 L150.4,430.2 L155,430.2 L155,431.5 L156.75,431.5 L156.75,433.05 L158.5,433.05 L158.5,434.6 L161.55,434.6 L161.55,436.05 L164.6,436.05 L164.6,437.5 L165.6,437.5 L165.6,438.77 L166.6,438.77 L166.6,440.03 L167.6,440.03 L167.6,441.3 L173.3,441.3 L173.3,443.2 L173.6,443.2 L173.6,444.47 L173.9,444.47 L173.9,445.73 L174.2,445.73 L174.2,447 L179,447 L179,448.9 L179.22,448.9 L179.22,450.3 L179.45,450.3 L179.45,451.7 L179.68,451.7 L179.68,453.1 L179.9,453.1 L179.9,454.5 L180.04,454.5 L180.04,456 L180.19,456 L180.19,457.5 L180.33,457.5 L180.33,459 L180.47,459 L180.47,460.5 L180.61,460.5 L180.61,462 L180.76,462 L180.76,463.5 L180.9,463.5 L180.9,465 L187.5,465 L187.5,487.7 L225.4,487.7" fill="none" stroke="#e0cf62" stroke-width="1.15" stroke-linejoin="miter"/>
<path d="M30,359.6 L31.8,359.6 L31.8,361.4 L33.1,361.4 L33.1,362.67 L34.4,362.67 L34.4,363.93 L35.7,363.93 L35.7,365.2 L37.25,365.2 L37.25,366.75 L38.8,366.75 L38.8,368.3 L41.8,368.3 L41.8,369.8 L45.7,369.8 L45.7,371.4 L47.2,371.4 L47.2,372.5 L50.3,372.5 L50.3,374 L51.8,374 L51.8,374.8 L53.4,374.8 L53.4,376.4 L54.9,376.4 L54.9,378.3 L56.13,378.3 L56.13,379.97 L57.37,379.97 L57.37,381.63 L58.6,381.63 L58.6,383.3 L59.6,383.3 L59.6,384.62 L60.6,384.62 L60.6,385.95 L61.6,385.95 L61.6,387.28 L62.6,387.28 L62.6,388.6 L63.93,388.6 L63.93,390.25 L65.25,390.25 L65.25,391.9 L66.58,391.9 L66.58,393.55 L67.9,393.55 L67.9,395.2 L69.67,395.2 L69.67,396.53 L71.43,396.53 L71.43,397.87 L73.2,397.87 L73.2,399.2 L79.8,399.2 L79.8,401.2 L86.5,401.2 L86.5,403.2 L89.15,403.2 L89.15,404.55 L91.8,404.55 L91.8,405.9 L93.4,405.9 L93.4,407.55 L95,407.55 L95,409.2 L96.75,409.2 L96.75,410.35 L98.5,410.35 L98.5,411.5 L99.05,411.5 L99.05,412.8 L99.6,412.8 L99.6,414.1 L111.1,414.1 L111.1,416 L113.5,416 L113.5,417.9 L118.6,417.9 L118.6,424.8 L125.6,424.8 L125.6,427.1 L131.9,427.1 L131.9,429.1 L145.7,429.1 L145.7,431.5 L146.9,431.5 L146.9,434.3 L188.1,434.3 L188.1,509.3" fill="none" stroke="#623f92" stroke-width="1.15" stroke-linejoin="miter"/>
<path d="M30,359.6 L31,359.6 L31,360.6 L32.24,360.6 L32.24,362.56 L33.48,362.56 L33.48,364.52 L34.72,364.52 L34.72,366.48 L35.96,366.48 L35.96,368.44 L37.2,368.44 L37.2,370.4 L39.27,370.4 L39.27,372.27 L41.33,372.27 L41.33,374.13 L43.4,374.13 L43.4,376 L44.55,376 L44.55,377.5 L45.7,377.5 L45.7,379 L46.45,379 L46.45,380.6 L47.2,380.6 L47.2,382.2 L48,382.2 L48,384.1 L48.8,384.1 L48.8,386 L49.87,386 L49.87,387.73 L50.93,387.73 L50.93,389.47 L52,389.47 L52,391.2 L52.87,391.2 L52.87,393 L53.73,393 L53.73,394.8 L54.6,394.8 L54.6,396.6 L55.5,396.6 L55.5,398.37 L56.4,398.37 L56.4,400.13 L57.3,400.13 L57.3,401.9 L58.6,401.9 L58.6,403.9 L59.9,403.9 L59.9,405.9 L61,405.9 L61,407.67 L62.1,407.67 L62.1,409.43 L63.2,409.43 L63.2,411.2 L64.55,411.2 L64.55,413.2 L65.9,413.2 L65.9,415.2 L69.2,415.2 L69.2,417.8 L69.87,417.8 L69.87,419.57 L70.53,419.57 L70.53,421.33 L71.2,421.33 L71.2,423.1 L71.63,423.1 L71.63,424.87 L72.07,424.87 L72.07,426.63 L72.5,426.63 L72.5,428.4 L72.97,428.4 L72.97,430.17 L73.43,430.17 L73.43,431.93 L73.9,431.93 L73.9,433.7 L74.57,433.7 L74.57,435.47 L75.23,435.47 L75.23,437.23 L75.9,437.23 L75.9,439 L78.8,439 L78.8,440.2 L91.5,440.2 L91.5,444.7 L99.4,444.7 L99.4,452.9 L107.6,452.9 L107.6,456.3 L120.6,456.3 L120.6,461.5 L123,461.5 L123,465.2 L137.7,465.2 L137.7,471.5 L185.6,471.5" fill="none" stroke="#868686" stroke-width="1.15" stroke-linejoin="miter"/>
<path d="M30,359.6 L31,359.6 L31,360.2 L34.2,360.2 L34.2,363.3 L37.2,363.3 L37.2,366 L39.5,366 L39.5,369.8 L41.8,369.8 L41.8,371.4 L41.8,374.5 L44.9,374.5 L44.9,376.4 L50.6,376.4 L50.6,376.8 L53.3,376.8 L53.3,379.3 L54.6,379.3 L54.6,381.3 L55.9,381.3 L55.9,383.3 L57.9,383.3 L57.9,385.3 L59.9,385.3 L59.9,387.3 L60.55,387.3 L60.55,389.95 L61.2,389.95 L61.2,392.6 L62.33,392.6 L62.33,394.8 L63.47,394.8 L63.47,397 L64.6,397 L64.6,399.2 L65.27,399.2 L65.27,401.43 L65.93,401.43 L65.93,403.67 L66.6,403.67 L66.6,405.9 L67.9,405.9 L67.9,409.2 L73.2,409.2 L73.2,411.2 L75.9,411.2 L75.9,413.8 L78.5,413.8 L78.5,416.5 L82.5,416.5 L82.5,419.8 L85.2,419.8 L85.2,422.5 L89.1,422.5 L89.1,425.1 L90.3,425.1 L90.3,428.8 L93.7,428.8 L93.7,429.3 L94.6,429.3 L94.6,432.2 L97.5,432.2 L97.5,433.2 L98.5,433.2 L98.5,436.5 L100.4,436.5 L100.4,438 L100.9,438 L100.9,441.3 L103.3,441.3 L103.3,442.3 L104.2,442.3 L104.2,445.2 L107.1,445.2 L107.1,446.2 L107.6,446.2 L107.6,448.6 L108.1,448.6 L108.1,451 L113.8,451 L113.8,456.3 L120.8,456.3 L120.8,461.5 L153.8,461.5 L153.8,471.5 L166,471.5 L166,484.3 L167.7,484.3" fill="none" stroke="#1a1a1a" stroke-width="1.15" stroke-linejoin="miter"/>
<path d="M30,359.6 L30.5,359.6 L30.5,361.8 L31,361.8 L31,364 L31.8,364 L31.8,365.65 L32.6,365.65 L32.6,367.3 L33.3,367.3 L33.3,369.65 L34,369.65 L34,372 L34.85,372 L34.85,373.5 L35.7,373.5 L35.7,375 L36.3,375 L36.3,376.67 L36.9,376.67 L36.9,378.33 L37.5,378.33 L37.5,380 L38.8,380 L38.8,382.7 L39.4,382.7 L39.4,384.35 L40,384.35 L40,386 L40.43,386 L40.43,387.73 L40.87,387.73 L40.87,389.47 L41.3,389.47 L41.3,391.2 L41.97,391.2 L41.97,393.2 L42.65,393.2 L42.65,395.2 L43.33,395.2 L43.33,397.2 L44,397.2 L44,399.2 L45.33,399.2 L45.33,400.97 L46.67,400.97 L46.67,402.73 L48,402.73 L48,404.5 L50,404.5 L50,406.5 L52,406.5 L52,408.5 L53.3,408.5 L53.3,410.5 L54.6,410.5 L54.6,412.5 L55.93,412.5 L55.93,414.27 L57.27,414.27 L57.27,416.03 L58.6,416.03 L58.6,417.8 L59.93,417.8 L59.93,419.57 L61.27,419.57 L61.27,421.33 L62.6,421.33 L62.6,423.1 L63.93,423.1 L63.93,424.87 L65.27,424.87 L65.27,426.63 L66.6,426.63 L66.6,428.4 L67.9,428.4 L67.9,430.17 L69.2,430.17 L69.2,431.93 L70.5,431.93 L70.5,433.7 L71.4,433.7 L71.4,435.47 L72.3,435.47 L72.3,437.23 L73.2,437.23 L73.2,439 L74.2,439 L74.2,440.8 L75.7,440.8 L75.7,443.1 L77.2,443.1 L77.2,445.4 L77.97,445.4 L77.97,447.32 L78.75,447.32 L78.75,449.25 L79.53,449.25 L79.53,451.18 L80.3,451.18 L80.3,453.1 L80.8,453.1 L80.8,454.9 L81.3,454.9 L81.3,456.7 L81.8,456.7 L81.8,458.5 L86.5,458.5 L86.5,459.2 L87.65,459.2 L87.65,461.15 L88.8,461.15 L88.8,463.1 L89.17,463.1 L89.17,464.83 L89.55,464.83 L89.55,466.55 L89.92,466.55 L89.92,468.27 L90.3,468.27 L90.3,470 L90.8,470 L90.8,471.9 L91.3,471.9 L91.3,473.8 L91.8,473.8 L91.8,475.7 L132.3,475.7 L132.3,483.1 L143.8,483.1 L143.8,489.2 L170,489.2" fill="none" stroke="#48609e" stroke-width="1.15" stroke-linejoin="miter"/>
<path d="M30,359.6 L31.5,359.6 L31.5,367.1 L34.5,367.1 L34.5,374.6 L38.2,374.6 L38.2,382.8 L45.3,382.8 L45.3,390.6 L49.3,390.6 L49.3,398.6 L55.3,398.6 L55.3,409.2 L61.9,409.2 L61.9,419.1 L77.2,419.1 L77.2,430 L91.7,430 L91.7,445.2 L99,445.2 L99,462 L104.2,462 L104.2,477.7 L109.2,477.7 L109.2,509.3" fill="none" stroke="#c93f48" stroke-width="1.15" stroke-linejoin="miter"/>
<path d="M30,359.6 L34.6,359.6 L34.6,389.2 L40.5,389.2 L40.5,419.2 L45.2,419.2 L45.2,434.2 L60.6,434.2 L60.6,453.1 L66.8,453.1 L66.8,471.5 L78,471.5 L78,490.8 L91.1,490.8 L91.1,509.3" fill="none" stroke="#a6c070" stroke-width="1.15" stroke-linejoin="miter"/>
<path d="M310.9,359.6 L324,359.6 L324,362.6 L326.6,362.6 L326.6,365.8 L336.3,365.8 L336.3,370.6 L337.5,370.6 L337.5,375.8 L342.8,375.8 L342.8,379.2 L346.8,379.2 L346.8,384.4 L350.9,384.4 L350.9,389 L354.9,389 L354.9,400.4 L361.5,400.4 L361.5,408.2 L366.5,408.2 L366.5,419.2 L372.2,419.2 L372.2,426 L388,426 L388,446 L396.7,446 L396.7,458.3 L403.6,458.3 L403.6,471.5 L413,471.5 L413,480.8 L423.1,480.8 L423.1,495.3 L505.8,495.3" fill="none" stroke="#a8a8a8" stroke-width="1.15" stroke-linejoin="miter"/>
<path d="M310.9,359.6 L312.5,359.6 L312.5,365 L314.3,365 L314.3,370.2 L334.9,370.2 L334.9,381.5 L343.2,381.5 L343.2,388.4 L348.6,388.4 L348.6,394.8 L356,394.8 L356,401.2 L358.4,401.2 L358.4,408.4 L379.4,408.4 L379.4,419.8 L388.1,419.8 L388.1,432.3 L392.1,432.3 L392.1,445.4 L414.8,445.4 L414.8,461.3 L425.5,461.3 L425.5,477.3 L434.6,477.3 L434.6,494 L456.1,494 L456.1,509.8" fill="none" stroke="#1a1a1a" stroke-width="1.15" stroke-linejoin="miter"/>
<path d="M310.9,359.6 L312.8,359.6 L312.8,367.2 L318.3,367.2 L318.3,374.9 L320.8,374.9 L320.8,382.8 L330.2,382.8 L330.2,391.3 L335.3,391.3 L335.3,398.8 L342.8,398.8 L342.8,408.6 L352.1,408.6 L352.1,419 L370,419 L370,430.4 L389,430.4 L389,446.1 L396.7,446.1 L396.7,462.3 L403.6,462.3 L403.6,478.5 L410.4,478.5 L410.4,509.8" fill="none" stroke="#c93f48" stroke-width="1.15" stroke-linejoin="miter"/>
<path d="M310.9,359.6 L311.5,359.6 L311.5,362 L311.87,362 L311.87,363.9 L312.23,363.9 L312.23,365.8 L312.6,365.8 L312.6,367.7 L313.75,367.7 L313.75,369.4 L314.9,369.4 L314.9,371.1 L316.05,371.1 L316.05,372.85 L317.2,372.85 L317.2,374.6 L318.35,374.6 L318.35,376.9 L319.5,376.9 L319.5,379.2 L320.65,379.2 L320.65,381.5 L321.8,381.5 L321.8,383.8 L322.95,383.8 L322.95,386.1 L324.1,386.1 L324.1,388.4 L324.9,388.4 L324.9,390.33 L325.7,390.33 L325.7,392.27 L326.5,392.27 L326.5,394.2 L327.63,394.2 L327.63,396.13 L328.77,396.13 L328.77,398.07 L329.9,398.07 L329.9,400 L331.85,400 L331.85,401.85 L333.8,401.85 L333.8,403.7 L336.7,403.7 L336.7,404.6 L337.7,404.6 L337.7,406.55 L338.7,406.55 L338.7,408.5 L339.63,408.5 L339.63,410.1 L340.57,410.1 L340.57,411.7 L341.5,411.7 L341.5,413.3 L342.95,413.3 L342.95,414.95 L344.4,414.95 L344.4,416.6 L347.3,416.6 L347.3,417.6 L349.2,417.6 L349.2,420 L350.2,420 L350.2,421.45 L351.2,421.45 L351.2,422.9 L351.83,422.9 L351.83,424.5 L352.47,424.5 L352.47,426.1 L353.1,426.1 L353.1,427.7 L355,427.7 L355,430.1 L358.8,430.1 L358.8,430.6 L361.7,430.6 L361.7,431.5 L362.7,431.5 L362.7,433.45 L363.7,433.45 L363.7,435.4 L365.1,435.4 L365.1,437.55 L366.5,437.55 L366.5,439.7 L367.6,439.7 L367.6,441.55 L368.7,441.55 L368.7,443.4 L369.83,443.4 L369.83,445 L370.97,445 L370.97,446.6 L372.1,446.6 L372.1,448.2 L373.03,448.2 L373.03,449.8 L373.97,449.8 L373.97,451.4 L374.9,451.4 L374.9,453 L375.37,453 L375.37,454.9 L375.83,454.9 L375.83,456.8 L376.3,456.8 L376.3,458.7 L383.2,458.7 L383.2,463 L385.1,463 L385.1,467.4 L387.2,467.4 L387.2,472.1 L388.6,472.1 L388.6,476.1 L439.3,476.1 L439.3,482.4 L453.8,482.4 L453.8,489.3 L486.6,489.3" fill="none" stroke="#48609e" stroke-width="1.15" stroke-linejoin="miter"/>
<path d="M310.9,359.6 L316.8,359.6 L316.8,389.4 L324.6,389.4 L324.6,419.3 L330.2,419.3 L330.2,434.6 L349.6,434.6 L349.6,453.4 L356.5,453.4 L356.5,472.6 L371.5,472.6 L371.5,491.7 L387.9,491.7 L387.9,509.8" fill="none" stroke="#a6c070" stroke-width="1.15" stroke-linejoin="miter"/>
</svg>
</body></html>
